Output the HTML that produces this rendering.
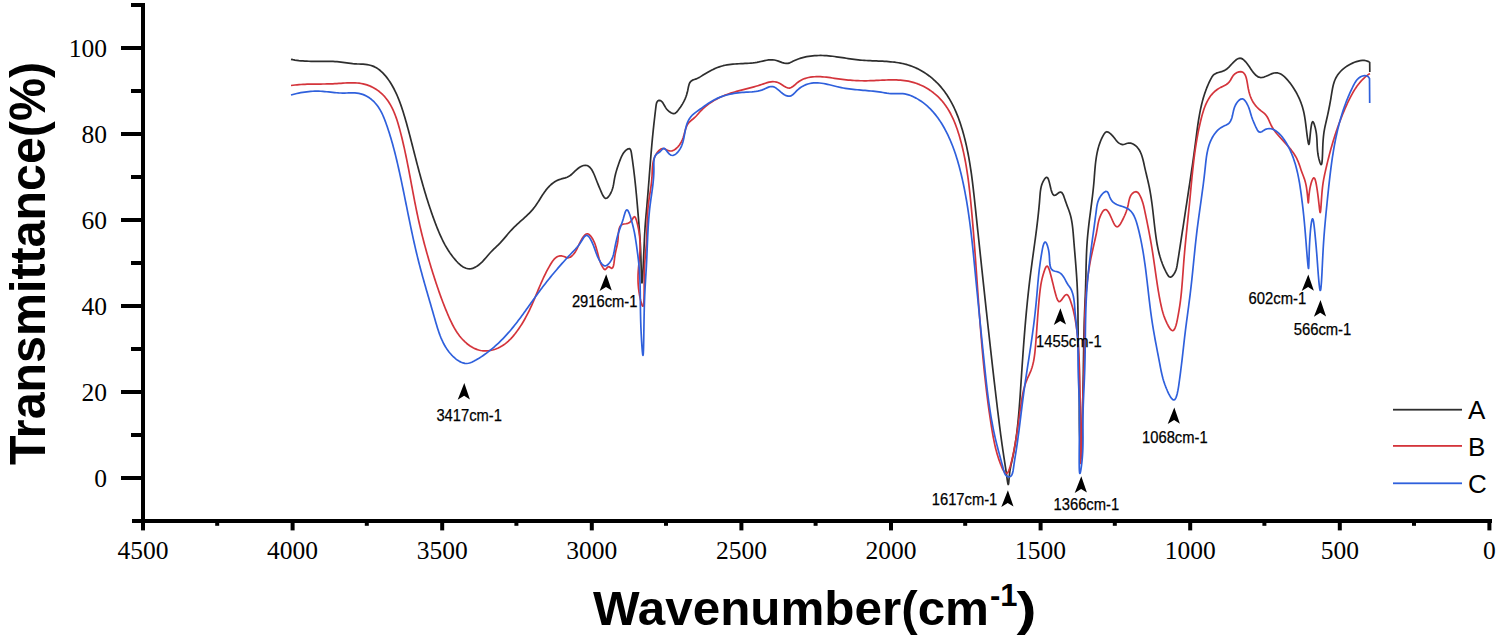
<!DOCTYPE html>
<html><head><meta charset="utf-8"><title>FTIR spectra</title>
<style>
html,body{margin:0;padding:0;background:#fff;}
body{width:1500px;height:639px;overflow:hidden;}
svg{display:block;}
.tl{font-family:"Liberation Serif",serif;font-size:25.5px;fill:#000;}
.lg{font-family:"Liberation Sans",sans-serif;font-size:26px;fill:#000;}
.an{font-family:"Liberation Sans",sans-serif;font-size:16px;fill:#000;stroke:#000;stroke-width:0.25px;}
.tt{font-family:"Liberation Sans",sans-serif;font-size:50px;font-weight:bold;fill:#000;}
.tt2{font-family:"Liberation Sans",sans-serif;font-size:48px;font-weight:bold;fill:#000;}
.sup{font-family:"Liberation Sans",sans-serif;font-size:31px;font-weight:bold;fill:#000;}
</style></head>
<body>
<svg width="1500" height="639" viewBox="0 0 1500 639">
<rect x="141" y="3" width="4" height="520" fill="#000"/>
<rect x="132" y="519" width="1360" height="4" fill="#000"/>
<rect x="121" y="476.0" width="20" height="4" fill="#000"/>
<rect x="121" y="390.0" width="20" height="4" fill="#000"/>
<rect x="121" y="304.0" width="20" height="4" fill="#000"/>
<rect x="121" y="218.0" width="20" height="4" fill="#000"/>
<rect x="121" y="132.0" width="20" height="4" fill="#000"/>
<rect x="121" y="46.0" width="20" height="4" fill="#000"/>
<rect x="131" y="433.0" width="10" height="4" fill="#000"/>
<rect x="131" y="347.0" width="10" height="4" fill="#000"/>
<rect x="131" y="261.0" width="10" height="4" fill="#000"/>
<rect x="131" y="175.0" width="10" height="4" fill="#000"/>
<rect x="131" y="89.0" width="10" height="4" fill="#000"/>
<rect x="131" y="3.0" width="10" height="4" fill="#000"/>
<rect x="141.0" y="523" width="4" height="7.4" fill="#000"/>
<rect x="290.6" y="523" width="4" height="7.4" fill="#000"/>
<rect x="440.2" y="523" width="4" height="7.4" fill="#000"/>
<rect x="589.8" y="523" width="4" height="7.4" fill="#000"/>
<rect x="739.4" y="523" width="4" height="7.4" fill="#000"/>
<rect x="889.0" y="523" width="4" height="7.4" fill="#000"/>
<rect x="1038.6" y="523" width="4" height="7.4" fill="#000"/>
<rect x="1188.2" y="523" width="4" height="7.4" fill="#000"/>
<rect x="1337.8" y="523" width="4" height="7.4" fill="#000"/>
<rect x="1487.4" y="523" width="4" height="7.4" fill="#000"/>
<rect x="215.2" y="523" width="4" height="2.8" fill="#000"/>
<rect x="364.8" y="523" width="4" height="2.8" fill="#000"/>
<rect x="514.4" y="523" width="4" height="2.8" fill="#000"/>
<rect x="664.0" y="523" width="4" height="2.8" fill="#000"/>
<rect x="813.6" y="523" width="4" height="2.8" fill="#000"/>
<rect x="963.2" y="523" width="4" height="2.8" fill="#000"/>
<rect x="1112.8" y="523" width="4" height="2.8" fill="#000"/>
<rect x="1262.4" y="523" width="4" height="2.8" fill="#000"/>
<rect x="1412.0" y="523" width="4" height="2.8" fill="#000"/>
<text x="107" y="486.6" class="tl" text-anchor="end">0</text>
<text x="107" y="400.6" class="tl" text-anchor="end">20</text>
<text x="107" y="314.6" class="tl" text-anchor="end">40</text>
<text x="107" y="228.6" class="tl" text-anchor="end">60</text>
<text x="107" y="142.6" class="tl" text-anchor="end">80</text>
<text x="107" y="56.6" class="tl" text-anchor="end">100</text>
<text x="143.0" y="559.3" class="tl" text-anchor="middle">4500</text>
<text x="292.6" y="559.3" class="tl" text-anchor="middle">4000</text>
<text x="442.2" y="559.3" class="tl" text-anchor="middle">3500</text>
<text x="591.8" y="559.3" class="tl" text-anchor="middle">3000</text>
<text x="741.4" y="559.3" class="tl" text-anchor="middle">2500</text>
<text x="891.0" y="559.3" class="tl" text-anchor="middle">2000</text>
<text x="1040.6" y="559.3" class="tl" text-anchor="middle">1500</text>
<text x="1190.2" y="559.3" class="tl" text-anchor="middle">1000</text>
<text x="1339.8" y="559.3" class="tl" text-anchor="middle">500</text>
<text x="1489.4" y="559.3" class="tl" text-anchor="middle">0</text>
<path d="M291.00,59.30 L292.95,59.70 L294.91,60.05 L296.88,60.34 L298.86,60.59 L300.85,60.79 L302.85,60.95 L304.86,61.08 L306.87,61.17 L308.88,61.24 L310.90,61.28 L312.93,61.31 L314.95,61.32 L316.98,61.32 L319.00,61.31 L321.02,61.31 L323.04,61.30 L325.06,61.31 L327.07,61.32 L329.08,61.35 L331.08,61.40 L333.07,61.47 L335.05,61.57 L337.03,61.71 L338.99,61.88 L340.94,62.09 L342.88,62.34 L344.82,62.61 L346.77,62.88 L348.72,63.16 L350.69,63.41 L352.69,63.64 L354.72,63.81 L356.78,63.94 L358.87,64.02 L360.97,64.11 L363.06,64.21 L365.13,64.37 L367.16,64.62 L369.15,64.97 L371.07,65.46 L372.91,66.11 L374.68,66.90 L376.38,67.82 L378.02,68.87 L379.59,70.02 L381.09,71.28 L382.53,72.63 L383.92,74.07 L385.24,75.57 L386.51,77.13 L387.73,78.73 L388.90,80.38 L390.02,82.06 L391.09,83.76 L392.12,85.48 L393.11,87.23 L394.05,88.99 L394.96,90.78 L395.83,92.58 L396.67,94.40 L397.47,96.23 L398.25,98.08 L398.99,99.95 L399.71,101.82 L400.40,103.70 L401.07,105.60 L401.72,107.50 L402.35,109.41 L402.96,111.32 L403.56,113.24 L404.14,115.16 L404.71,117.08 L405.28,119.00 L405.83,120.92 L406.38,122.84 L406.91,124.76 L407.44,126.69 L407.97,128.61 L408.49,130.54 L409.00,132.46 L409.51,134.39 L410.01,136.32 L410.51,138.25 L411.01,140.18 L411.51,142.11 L412.00,144.04 L412.49,145.97 L412.99,147.90 L413.48,149.84 L413.98,151.77 L414.47,153.71 L414.97,155.65 L415.47,157.59 L415.97,159.53 L416.47,161.47 L416.98,163.41 L417.49,165.35 L418.00,167.29 L418.52,169.23 L419.03,171.16 L419.56,173.10 L420.08,175.04 L420.61,176.98 L421.15,178.91 L421.69,180.85 L422.23,182.78 L422.78,184.71 L423.33,186.64 L423.89,188.57 L424.46,190.49 L425.03,192.42 L425.61,194.34 L426.19,196.26 L426.78,198.17 L427.38,200.09 L427.99,202.00 L428.60,203.90 L429.22,205.81 L429.85,207.71 L430.49,209.60 L431.13,211.49 L431.78,213.38 L432.45,215.27 L433.12,217.15 L433.80,219.02 L434.49,220.89 L435.19,222.76 L435.90,224.62 L436.62,226.47 L437.35,228.32 L438.10,230.16 L438.86,232.00 L439.64,233.83 L440.45,235.64 L441.27,237.45 L442.13,239.25 L443.01,241.03 L443.92,242.81 L444.86,244.57 L445.84,246.31 L446.85,248.04 L447.90,249.75 L449.00,251.45 L450.13,253.13 L451.32,254.79 L452.55,256.44 L453.83,258.06 L455.16,259.66 L456.55,261.24 L457.99,262.76 L459.49,264.19 L461.04,265.49 L462.65,266.64 L464.31,267.58 L466.03,268.29 L467.81,268.73 L469.64,268.87 L471.52,268.66 L473.46,268.07 L475.42,267.12 L477.27,265.99 L478.96,264.76 L480.52,263.45 L481.98,262.07 L483.35,260.64 L484.66,259.18 L485.94,257.69 L487.20,256.19 L488.48,254.70 L489.80,253.23 L491.16,251.79 L492.56,250.37 L493.99,248.97 L495.44,247.58 L496.88,246.18 L498.32,244.77 L499.74,243.35 L501.13,241.89 L502.48,240.41 L503.80,238.90 L505.09,237.38 L506.37,235.84 L507.65,234.31 L508.94,232.79 L510.25,231.28 L511.60,229.81 L512.98,228.36 L514.40,226.95 L515.85,225.56 L517.33,224.19 L518.82,222.84 L520.32,221.49 L521.83,220.15 L523.33,218.80 L524.82,217.45 L526.30,216.08 L527.75,214.70 L529.17,213.29 L530.56,211.85 L531.90,210.37 L533.20,208.86 L534.43,207.29 L535.62,205.68 L536.75,204.04 L537.86,202.36 L538.94,200.67 L540.00,198.97 L541.07,197.27 L542.15,195.57 L543.24,193.90 L544.37,192.25 L545.54,190.64 L546.77,189.08 L548.06,187.57 L549.42,186.13 L550.85,184.76 L552.36,183.49 L553.96,182.32 L555.64,181.27 L557.41,180.35 L559.27,179.57 L561.23,178.94 L563.24,178.40 L565.24,177.85 L567.15,177.19 L568.91,176.33 L570.52,175.24 L572.03,173.99 L573.47,172.63 L574.91,171.22 L576.39,169.82 L577.96,168.48 L579.67,167.27 L581.54,166.24 L583.48,165.53 L585.37,165.26 L587.10,165.53 L588.64,166.30 L590.03,167.50 L591.26,169.03 L592.37,170.81 L593.37,172.76 L594.26,174.78 L595.08,176.80 L595.83,178.73 L596.53,180.52 L597.21,182.23 L597.89,183.91 L598.58,185.61 L599.32,187.39 L600.12,189.29 L601.00,191.37 L601.99,193.65 L603.09,195.86 L604.30,197.60 L605.64,198.45 L607.08,198.05 L608.54,196.61 L609.87,194.69 L610.96,192.72 L611.82,190.77 L612.49,188.83 L613.02,186.91 L613.43,185.00 L613.78,183.09 L614.09,181.19 L614.41,179.28 L614.78,177.38 L615.20,175.47 L615.67,173.56 L616.19,171.65 L616.75,169.73 L617.35,167.82 L617.98,165.90 L618.64,163.98 L619.33,162.07 L620.05,160.15 L620.79,158.24 L621.60,156.35 L622.54,154.53 L623.67,152.78 L625.03,151.16 L626.62,149.74 L628.21,148.81 L629.54,148.67 L630.44,149.48 L631.01,151.01 L631.39,152.95 L631.70,155.00 L632.01,157.06 L632.31,159.13 L632.59,161.19 L632.88,163.26 L633.15,165.33 L633.42,167.39 L633.68,169.46 L633.93,171.53 L634.18,173.59 L634.42,175.65 L634.66,177.71 L634.89,179.77 L635.11,181.82 L635.33,183.87 L635.54,185.91 L635.75,187.94 L635.95,189.97 L636.14,192.00 L636.34,194.01 L636.53,196.02 L636.71,198.01 L636.89,200.00 L637.07,201.98 L637.24,203.95 L637.41,205.91 L637.58,207.85 L637.74,209.78 L637.90,211.70 L638.06,213.61 L638.21,215.50 L638.37,217.38 L638.52,219.24 L638.67,221.09 L638.82,222.92 L638.97,224.73 L639.11,226.53 L639.26,228.33 L639.40,230.14 L639.54,231.97 L639.68,233.82 L639.81,235.70 L639.94,237.63 L640.07,239.61 L640.19,241.65 L640.31,243.76 L640.43,245.95 L640.54,248.23 L640.64,250.60 L640.74,253.09 L640.83,255.68 L640.92,258.39 L641.00,261.16 L641.08,263.95 L641.16,266.72 L641.23,269.42 L641.30,272.00 L641.38,274.42 L641.46,276.62 L641.53,278.58 L641.62,280.23 L641.71,281.53 L641.80,282.44 L641.90,282.91 L642.01,282.89 L642.13,282.36 L642.26,281.38 L642.39,279.99 L642.52,278.25 L642.66,276.22 L642.80,273.94 L642.94,271.49 L643.08,268.90 L643.22,266.24 L643.35,263.56 L643.47,260.91 L643.59,258.35 L643.70,255.90 L643.80,253.54 L643.90,251.27 L643.99,249.08 L644.08,246.97 L644.17,244.92 L644.25,242.93 L644.34,240.99 L644.42,239.09 L644.51,237.23 L644.60,235.39 L644.70,233.57 L644.80,231.77 L644.91,229.96 L645.02,228.16 L645.14,226.34 L645.27,224.50 L645.41,222.64 L645.56,220.75 L645.72,218.83 L645.89,216.89 L646.06,214.94 L646.24,212.96 L646.42,210.97 L646.60,208.98 L646.78,206.97 L646.95,204.96 L647.13,202.94 L647.30,200.93 L647.47,198.91 L647.64,196.89 L647.81,194.87 L647.98,192.85 L648.14,190.83 L648.30,188.81 L648.46,186.79 L648.62,184.77 L648.78,182.75 L648.94,180.73 L649.09,178.71 L649.25,176.69 L649.40,174.67 L649.56,172.65 L649.72,170.64 L649.87,168.63 L650.03,166.62 L650.19,164.61 L650.35,162.61 L650.51,160.61 L650.67,158.61 L650.83,156.61 L650.99,154.62 L651.16,152.64 L651.33,150.65 L651.50,148.68 L651.67,146.70 L651.84,144.74 L652.02,142.77 L652.20,140.82 L652.38,138.86 L652.57,136.92 L652.76,134.98 L652.95,133.05 L653.15,131.12 L653.35,129.20 L653.55,127.29 L653.76,125.37 L653.97,123.44 L654.19,121.49 L654.42,119.52 L654.65,117.52 L654.88,115.48 L655.12,113.39 L655.37,111.25 L655.63,109.06 L655.89,106.79 L656.21,104.54 L656.73,102.55 L657.63,101.07 L659.02,100.35 L660.64,100.59 L662.07,101.78 L663.30,103.57 L664.41,105.54 L665.48,107.36 L666.60,108.98 L667.91,110.45 L669.52,111.82 L671.42,113.00 L673.37,113.61 L675.12,113.29 L676.62,112.14 L677.96,110.54 L679.21,108.86 L680.39,107.19 L681.50,105.52 L682.54,103.83 L683.50,102.13 L684.39,100.39 L685.21,98.60 L685.94,96.76 L686.60,94.85 L687.18,92.86 L687.67,90.78 L688.09,88.62 L688.52,86.46 L689.07,84.43 L689.84,82.62 L690.94,81.17 L692.47,80.18 L694.34,79.55 L696.24,78.90 L698.02,78.08 L699.73,77.14 L701.41,76.11 L703.10,75.06 L704.81,74.01 L706.54,72.98 L708.30,71.96 L710.08,70.98 L711.88,70.03 L713.71,69.14 L715.55,68.30 L717.42,67.52 L719.30,66.83 L721.21,66.22 L723.13,65.70 L725.07,65.26 L727.02,64.89 L728.99,64.59 L730.97,64.35 L732.96,64.15 L734.95,63.99 L736.95,63.86 L738.96,63.75 L740.97,63.66 L742.98,63.56 L744.99,63.47 L747.00,63.36 L749.00,63.23 L751.00,63.06 L752.99,62.86 L754.97,62.61 L756.94,62.30 L758.90,61.93 L760.85,61.50 L762.78,61.05 L764.71,60.62 L766.64,60.24 L768.57,59.95 L770.50,59.80 L772.45,59.81 L774.40,60.03 L776.37,60.50 L778.35,61.15 L780.33,61.88 L782.30,62.58 L784.24,63.13 L786.15,63.43 L788.01,63.35 L789.82,62.83 L791.59,61.99 L793.38,61.08 L795.20,60.23 L797.05,59.46 L798.92,58.77 L800.83,58.14 L802.75,57.59 L804.70,57.11 L806.66,56.70 L808.64,56.35 L810.63,56.06 L812.62,55.83 L814.62,55.66 L816.63,55.55 L818.63,55.48 L820.63,55.47 L822.62,55.51 L824.60,55.59 L826.58,55.71 L828.56,55.87 L830.53,56.06 L832.50,56.28 L834.47,56.52 L836.43,56.79 L838.40,57.07 L840.36,57.36 L842.33,57.66 L844.30,57.96 L846.27,58.27 L848.24,58.57 L850.22,58.86 L852.20,59.14 L854.18,59.40 L856.18,59.65 L858.17,59.87 L860.18,60.06 L862.19,60.23 L864.21,60.37 L866.23,60.49 L868.26,60.60 L870.29,60.70 L872.32,60.79 L874.36,60.87 L876.39,60.95 L878.42,61.04 L880.45,61.12 L882.48,61.22 L884.50,61.34 L886.52,61.46 L888.53,61.61 L890.53,61.78 L892.53,61.98 L894.52,62.21 L896.50,62.48 L898.46,62.78 L900.42,63.12 L902.36,63.51 L904.29,63.95 L906.21,64.44 L908.10,64.98 L909.99,65.59 L911.85,66.26 L913.69,66.98 L915.52,67.77 L917.32,68.61 L919.10,69.50 L920.86,70.45 L922.58,71.45 L924.29,72.50 L925.96,73.60 L927.60,74.75 L929.22,75.94 L930.80,77.18 L932.34,78.45 L933.85,79.77 L935.33,81.13 L936.77,82.52 L938.16,83.95 L939.52,85.41 L940.84,86.91 L942.11,88.43 L943.35,89.99 L944.54,91.57 L945.70,93.18 L946.82,94.82 L947.91,96.49 L948.96,98.18 L949.97,99.89 L950.96,101.62 L951.91,103.38 L952.82,105.16 L953.71,106.95 L954.57,108.76 L955.39,110.59 L956.19,112.44 L956.96,114.30 L957.71,116.17 L958.43,118.06 L959.12,119.95 L959.79,121.86 L960.44,123.78 L961.07,125.70 L961.67,127.63 L962.26,129.57 L962.82,131.51 L963.37,133.45 L963.90,135.40 L964.41,137.35 L964.90,139.30 L965.38,141.25 L965.84,143.21 L966.29,145.16 L966.73,147.12 L967.14,149.08 L967.55,151.05 L967.94,153.01 L968.32,154.97 L968.69,156.94 L969.04,158.91 L969.38,160.88 L969.72,162.85 L970.04,164.83 L970.35,166.80 L970.65,168.77 L970.95,170.75 L971.23,172.73 L971.51,174.71 L971.78,176.69 L972.04,178.67 L972.29,180.65 L972.54,182.63 L972.78,184.61 L973.02,186.60 L973.26,188.58 L973.48,190.56 L973.71,192.55 L973.93,194.53 L974.15,196.52 L974.37,198.51 L974.58,200.49 L974.79,202.48 L975.00,204.47 L975.22,206.45 L975.43,208.44 L975.64,210.42 L975.85,212.41 L976.06,214.40 L976.27,216.38 L976.48,218.37 L976.69,220.36 L976.90,222.34 L977.11,224.33 L977.32,226.32 L977.53,228.30 L977.74,230.29 L977.95,232.28 L978.17,234.26 L978.38,236.25 L978.59,238.24 L978.80,240.22 L979.01,242.21 L979.22,244.20 L979.43,246.19 L979.64,248.17 L979.85,250.16 L980.06,252.15 L980.27,254.13 L980.48,256.12 L980.70,258.11 L980.91,260.10 L981.12,262.08 L981.33,264.07 L981.54,266.06 L981.75,268.05 L981.97,270.03 L982.18,272.02 L982.39,274.01 L982.60,276.00 L982.82,277.98 L983.03,279.97 L983.24,281.96 L983.45,283.95 L983.67,285.94 L983.88,287.93 L984.09,289.91 L984.31,291.90 L984.52,293.89 L984.74,295.88 L984.95,297.87 L985.17,299.86 L985.38,301.85 L985.60,303.84 L985.81,305.83 L986.03,307.82 L986.24,309.81 L986.46,311.80 L986.68,313.78 L986.89,315.77 L987.11,317.77 L987.33,319.76 L987.55,321.75 L987.76,323.74 L987.98,325.73 L988.20,327.72 L988.42,329.71 L988.64,331.70 L988.86,333.69 L989.08,335.68 L989.30,337.67 L989.52,339.67 L989.74,341.66 L989.97,343.65 L990.19,345.64 L990.41,347.63 L990.63,349.63 L990.86,351.62 L991.08,353.61 L991.31,355.60 L991.53,357.60 L991.76,359.59 L991.98,361.58 L992.21,363.58 L992.43,365.57 L992.66,367.57 L992.89,369.56 L993.12,371.56 L993.35,373.55 L993.57,375.55 L993.80,377.54 L994.03,379.54 L994.26,381.53 L994.50,383.53 L994.73,385.52 L994.96,387.52 L995.19,389.52 L995.43,391.51 L995.66,393.51 L995.89,395.51 L996.13,397.50 L996.37,399.50 L996.60,401.50 L996.84,403.50 L997.08,405.49 L997.31,407.49 L997.55,409.49 L997.79,411.48 L998.04,413.48 L998.28,415.47 L998.52,417.46 L998.77,419.45 L999.01,421.44 L999.26,423.42 L999.51,425.41 L999.77,427.39 L1000.02,429.36 L1000.28,431.33 L1000.53,433.30 L1000.79,435.27 L1001.06,437.23 L1001.32,439.18 L1001.59,441.13 L1001.86,443.08 L1002.13,445.02 L1002.41,446.95 L1002.68,448.88 L1002.97,450.81 L1003.25,452.72 L1003.54,454.63 L1003.83,456.54 L1004.12,458.44 L1004.42,460.37 L1004.72,462.32 L1005.02,464.31 L1005.33,466.34 L1005.65,468.44 L1005.97,470.61 L1006.29,472.87 L1006.62,475.22 L1006.95,477.67 L1007.28,480.07 L1007.60,482.17 L1007.90,483.74 L1008.17,484.54 L1008.41,484.37 L1008.62,483.30 L1008.82,481.54 L1009.02,479.29 L1009.24,476.76 L1009.50,474.15 L1009.81,471.67 L1010.16,469.38 L1010.56,467.23 L1010.98,465.20 L1011.42,463.25 L1011.86,461.35 L1012.28,459.45 L1012.69,457.54 L1013.09,455.63 L1013.47,453.71 L1013.84,451.79 L1014.19,449.86 L1014.54,447.92 L1014.86,445.98 L1015.18,444.04 L1015.48,442.09 L1015.78,440.14 L1016.06,438.18 L1016.33,436.22 L1016.59,434.25 L1016.84,432.28 L1017.08,430.31 L1017.31,428.33 L1017.53,426.35 L1017.75,424.37 L1017.95,422.38 L1018.15,420.39 L1018.34,418.40 L1018.53,416.40 L1018.71,414.41 L1018.88,412.41 L1019.05,410.41 L1019.21,408.41 L1019.37,406.40 L1019.52,404.40 L1019.67,402.39 L1019.81,400.39 L1019.96,398.38 L1020.10,396.37 L1020.24,394.36 L1020.37,392.35 L1020.51,390.35 L1020.64,388.34 L1020.77,386.33 L1020.91,384.32 L1021.04,382.32 L1021.17,380.31 L1021.30,378.30 L1021.44,376.30 L1021.57,374.29 L1021.71,372.29 L1021.84,370.29 L1021.98,368.29 L1022.11,366.28 L1022.25,364.28 L1022.39,362.28 L1022.53,360.28 L1022.67,358.28 L1022.81,356.28 L1022.95,354.29 L1023.09,352.29 L1023.24,350.29 L1023.38,348.29 L1023.53,346.30 L1023.68,344.30 L1023.83,342.31 L1023.98,340.31 L1024.14,338.32 L1024.29,336.32 L1024.45,334.33 L1024.61,332.34 L1024.77,330.35 L1024.94,328.35 L1025.10,326.36 L1025.27,324.37 L1025.44,322.38 L1025.61,320.39 L1025.79,318.40 L1025.97,316.41 L1026.15,314.42 L1026.33,312.44 L1026.52,310.45 L1026.71,308.46 L1026.90,306.47 L1027.10,304.49 L1027.29,302.50 L1027.49,300.51 L1027.70,298.53 L1027.91,296.54 L1028.12,294.56 L1028.33,292.57 L1028.55,290.59 L1028.77,288.61 L1029.00,286.62 L1029.23,284.64 L1029.46,282.65 L1029.70,280.67 L1029.94,278.69 L1030.19,276.71 L1030.44,274.72 L1030.69,272.74 L1030.95,270.76 L1031.21,268.78 L1031.47,266.80 L1031.74,264.82 L1032.00,262.83 L1032.27,260.85 L1032.54,258.87 L1032.81,256.89 L1033.09,254.91 L1033.36,252.92 L1033.63,250.94 L1033.91,248.96 L1034.18,246.97 L1034.45,244.99 L1034.72,243.00 L1034.99,241.01 L1035.26,239.03 L1035.52,237.04 L1035.79,235.05 L1036.05,233.06 L1036.30,231.07 L1036.56,229.08 L1036.81,227.09 L1037.05,225.09 L1037.29,223.10 L1037.53,221.10 L1037.76,219.10 L1037.99,217.11 L1038.21,215.11 L1038.42,213.10 L1038.63,211.10 L1038.83,209.10 L1039.02,207.09 L1039.21,205.08 L1039.39,203.07 L1039.56,201.06 L1039.72,199.05 L1039.87,197.03 L1040.03,195.02 L1040.20,193.01 L1040.42,191.01 L1040.72,189.03 L1041.12,187.07 L1041.64,185.14 L1042.31,183.25 L1043.17,181.40 L1044.22,179.59 L1045.44,178.03 L1046.60,177.29 L1047.58,177.77 L1048.40,179.25 L1049.11,181.47 L1049.77,184.16 L1050.43,187.05 L1051.13,189.89 L1051.94,192.38 L1052.90,194.28 L1054.06,195.31 L1055.48,195.20 L1057.14,194.03 L1058.86,192.64 L1060.45,191.99 L1061.79,192.61 L1062.91,194.21 L1063.88,196.44 L1064.75,198.94 L1065.56,201.37 L1066.34,203.57 L1067.09,205.59 L1067.81,207.47 L1068.48,209.25 L1069.11,210.97 L1069.69,212.67 L1070.22,214.39 L1070.69,216.17 L1071.12,217.99 L1071.50,219.85 L1071.84,221.76 L1072.14,223.70 L1072.41,225.67 L1072.65,227.67 L1072.87,229.69 L1073.07,231.73 L1073.25,233.77 L1073.42,235.83 L1073.59,237.88 L1073.75,239.94 L1073.91,241.99 L1074.08,244.03 L1074.25,246.07 L1074.42,248.10 L1074.58,250.12 L1074.75,252.15 L1074.92,254.16 L1075.08,256.17 L1075.25,258.18 L1075.41,260.19 L1075.57,262.19 L1075.73,264.18 L1075.89,266.18 L1076.04,268.17 L1076.19,270.16 L1076.33,272.15 L1076.47,274.13 L1076.61,276.11 L1076.74,278.10 L1076.86,280.08 L1076.98,282.06 L1077.09,284.04 L1077.19,286.02 L1077.29,288.01 L1077.38,289.99 L1077.46,291.97 L1077.53,293.96 L1077.60,295.94 L1077.66,297.93 L1077.71,299.92 L1077.76,301.91 L1077.80,303.90 L1077.84,305.89 L1077.87,307.88 L1077.91,309.88 L1077.93,311.88 L1077.96,313.88 L1077.98,315.88 L1078.00,317.89 L1078.01,319.90 L1078.03,321.91 L1078.05,323.92 L1078.06,325.93 L1078.08,327.95 L1078.09,329.97 L1078.11,332.00 L1078.13,334.03 L1078.15,336.06 L1078.17,338.09 L1078.20,340.13 L1078.23,342.17 L1078.26,344.22 L1078.29,346.26 L1078.33,348.31 L1078.37,350.36 L1078.41,352.41 L1078.45,354.46 L1078.50,356.51 L1078.54,358.56 L1078.59,360.60 L1078.64,362.65 L1078.68,364.68 L1078.73,366.72 L1078.78,368.75 L1078.83,370.77 L1078.87,372.79 L1078.92,374.81 L1078.96,376.81 L1079.01,378.81 L1079.05,380.79 L1079.09,382.77 L1079.13,384.74 L1079.16,386.70 L1079.19,388.65 L1079.22,390.58 L1079.25,392.51 L1079.27,394.42 L1079.29,396.31 L1079.31,398.19 L1079.32,400.06 L1079.33,401.91 L1079.33,403.75 L1079.34,405.58 L1079.34,407.40 L1079.34,409.22 L1079.33,411.05 L1079.33,412.87 L1079.34,414.71 L1079.34,416.55 L1079.35,418.41 L1079.36,420.29 L1079.38,422.18 L1079.40,424.10 L1079.44,426.05 L1079.47,428.03 L1079.52,430.04 L1079.58,432.09 L1079.65,434.18 L1079.73,436.31 L1079.82,438.49 L1079.92,440.72 L1080.04,443.00 L1080.18,445.34 L1080.33,447.74 L1080.49,450.20 L1080.67,452.68 L1080.86,454.96 L1081.05,456.78 L1081.22,457.89 L1081.36,458.11 L1081.49,457.50 L1081.60,456.18 L1081.69,454.26 L1081.77,451.88 L1081.84,449.14 L1081.90,446.17 L1081.96,443.09 L1082.01,440.01 L1082.06,437.03 L1082.11,434.16 L1082.15,431.40 L1082.20,428.75 L1082.25,426.19 L1082.29,423.73 L1082.34,421.36 L1082.38,419.07 L1082.43,416.86 L1082.47,414.72 L1082.51,412.65 L1082.55,410.65 L1082.59,408.70 L1082.63,406.80 L1082.67,404.96 L1082.71,403.15 L1082.75,401.39 L1082.79,399.66 L1082.82,397.96 L1082.86,396.28 L1082.90,394.61 L1082.93,392.96 L1082.97,391.32 L1083.00,389.69 L1083.03,388.05 L1083.06,386.40 L1083.10,384.74 L1083.13,383.07 L1083.16,381.37 L1083.19,379.64 L1083.22,377.89 L1083.25,376.10 L1083.28,374.29 L1083.31,372.44 L1083.34,370.57 L1083.37,368.68 L1083.39,366.76 L1083.42,364.83 L1083.45,362.87 L1083.48,360.89 L1083.51,358.89 L1083.55,356.88 L1083.58,354.85 L1083.61,352.81 L1083.65,350.76 L1083.68,348.70 L1083.72,346.62 L1083.76,344.54 L1083.79,342.46 L1083.84,340.36 L1083.88,338.27 L1083.92,336.17 L1083.97,334.07 L1084.02,331.97 L1084.07,329.88 L1084.12,327.78 L1084.17,325.70 L1084.23,323.61 L1084.29,321.54 L1084.35,319.48 L1084.42,317.42 L1084.49,315.38 L1084.56,313.35 L1084.63,311.33 L1084.71,309.34 L1084.79,307.35 L1084.87,305.39 L1084.96,303.43 L1085.04,301.48 L1085.12,299.55 L1085.21,297.61 L1085.29,295.68 L1085.37,293.75 L1085.44,291.81 L1085.51,289.87 L1085.58,287.92 L1085.63,285.96 L1085.69,283.99 L1085.74,282.01 L1085.79,280.03 L1085.83,278.04 L1085.88,276.05 L1085.92,274.05 L1085.96,272.04 L1086.01,270.04 L1086.06,268.02 L1086.10,266.01 L1086.16,263.99 L1086.21,261.97 L1086.27,259.95 L1086.34,257.92 L1086.41,255.90 L1086.49,253.88 L1086.58,251.86 L1086.68,249.84 L1086.78,247.82 L1086.90,245.81 L1087.03,243.79 L1087.17,241.78 L1087.32,239.78 L1087.48,237.78 L1087.66,235.79 L1087.85,233.79 L1088.05,231.81 L1088.26,229.82 L1088.48,227.84 L1088.70,225.86 L1088.93,223.89 L1089.17,221.91 L1089.42,219.94 L1089.67,217.97 L1089.92,216.00 L1090.17,214.03 L1090.43,212.06 L1090.69,210.08 L1090.95,208.11 L1091.20,206.14 L1091.46,204.17 L1091.71,202.19 L1091.96,200.21 L1092.21,198.23 L1092.45,196.25 L1092.68,194.26 L1092.91,192.27 L1093.13,190.28 L1093.34,188.28 L1093.54,186.27 L1093.73,184.27 L1093.91,182.25 L1094.08,180.23 L1094.24,178.21 L1094.39,176.18 L1094.55,174.15 L1094.70,172.12 L1094.86,170.09 L1095.04,168.07 L1095.22,166.05 L1095.43,164.03 L1095.66,162.02 L1095.91,160.02 L1096.19,158.03 L1096.51,156.05 L1096.86,154.08 L1097.26,152.12 L1097.70,150.19 L1098.18,148.26 L1098.72,146.36 L1099.32,144.48 L1099.98,142.61 L1100.70,140.77 L1101.49,138.96 L1102.35,137.17 L1103.29,135.40 L1104.31,133.68 L1105.48,132.25 L1106.93,131.68 L1108.74,132.34 L1110.65,133.84 L1112.39,135.61 L1113.78,137.29 L1114.97,138.86 L1116.13,140.34 L1117.42,141.77 L1118.97,143.11 L1120.74,144.14 L1122.65,144.56 L1124.61,144.22 L1126.61,143.52 L1128.62,143.04 L1130.62,143.16 L1132.53,143.79 L1134.28,144.75 L1135.83,145.89 L1137.20,147.20 L1138.40,148.67 L1139.44,150.27 L1140.35,151.99 L1141.15,153.80 L1141.84,155.70 L1142.45,157.67 L1142.99,159.68 L1143.49,161.72 L1143.95,163.78 L1144.39,165.84 L1144.84,167.87 L1145.30,169.87 L1145.76,171.86 L1146.23,173.82 L1146.69,175.76 L1147.16,177.69 L1147.62,179.61 L1148.06,181.53 L1148.50,183.44 L1148.92,185.36 L1149.32,187.29 L1149.70,189.23 L1150.06,191.17 L1150.40,193.13 L1150.73,195.09 L1151.04,197.06 L1151.33,199.04 L1151.61,201.02 L1151.88,203.00 L1152.15,205.00 L1152.40,206.99 L1152.64,208.99 L1152.88,210.99 L1153.11,212.99 L1153.34,214.99 L1153.56,217.00 L1153.79,219.00 L1154.01,221.01 L1154.24,223.01 L1154.47,225.01 L1154.70,227.00 L1154.94,228.99 L1155.18,230.98 L1155.43,232.97 L1155.70,234.95 L1155.97,236.92 L1156.26,238.88 L1156.56,240.84 L1156.88,242.80 L1157.22,244.75 L1157.59,246.69 L1157.99,248.63 L1158.41,250.57 L1158.87,252.50 L1159.36,254.42 L1159.89,256.35 L1160.47,258.26 L1161.08,260.18 L1161.75,262.09 L1162.46,263.99 L1163.23,265.90 L1164.05,267.80 L1164.92,269.70 L1165.86,271.59 L1166.86,273.49 L1167.94,275.35 L1169.12,276.79 L1170.47,277.25 L1171.98,276.43 L1173.43,274.86 L1174.61,273.08 L1175.52,271.24 L1176.21,269.34 L1176.72,267.41 L1177.11,265.44 L1177.44,263.46 L1177.75,261.48 L1178.06,259.49 L1178.37,257.51 L1178.68,255.53 L1178.99,253.54 L1179.29,251.56 L1179.60,249.57 L1179.91,247.59 L1180.21,245.61 L1180.52,243.62 L1180.82,241.64 L1181.13,239.66 L1181.43,237.68 L1181.73,235.69 L1182.04,233.71 L1182.34,231.73 L1182.64,229.75 L1182.95,227.77 L1183.25,225.79 L1183.55,223.81 L1183.85,221.83 L1184.15,219.85 L1184.46,217.87 L1184.76,215.89 L1185.06,213.91 L1185.36,211.93 L1185.66,209.95 L1185.96,207.97 L1186.26,206.00 L1186.56,204.02 L1186.86,202.04 L1187.16,200.07 L1187.46,198.09 L1187.77,196.12 L1188.07,194.14 L1188.37,192.17 L1188.67,190.20 L1188.97,188.22 L1189.27,186.25 L1189.57,184.27 L1189.86,182.30 L1190.16,180.33 L1190.46,178.35 L1190.75,176.38 L1191.05,174.40 L1191.34,172.43 L1191.63,170.45 L1191.92,168.48 L1192.21,166.50 L1192.50,164.52 L1192.78,162.54 L1193.06,160.56 L1193.35,158.58 L1193.62,156.60 L1193.90,154.61 L1194.17,152.63 L1194.44,150.64 L1194.71,148.65 L1194.97,146.66 L1195.24,144.67 L1195.50,142.67 L1195.75,140.68 L1196.01,138.68 L1196.26,136.68 L1196.52,134.69 L1196.77,132.69 L1197.04,130.69 L1197.31,128.70 L1197.58,126.70 L1197.87,124.71 L1198.16,122.72 L1198.47,120.73 L1198.78,118.75 L1199.12,116.77 L1199.46,114.80 L1199.83,112.83 L1200.21,110.87 L1200.61,108.91 L1201.04,106.96 L1201.48,105.02 L1201.95,103.09 L1202.45,101.16 L1202.97,99.24 L1203.52,97.33 L1204.10,95.43 L1204.72,93.54 L1205.36,91.67 L1206.04,89.80 L1206.75,87.94 L1207.50,86.10 L1208.29,84.27 L1209.12,82.45 L1209.98,80.65 L1210.89,78.86 L1211.87,77.10 L1213.02,75.49 L1214.47,74.14 L1216.32,73.15 L1218.42,72.45 L1220.53,71.89 L1222.42,71.33 L1224.11,70.66 L1225.66,69.81 L1227.18,68.70 L1228.70,67.29 L1230.25,65.68 L1231.81,63.98 L1233.38,62.31 L1234.95,60.79 L1236.53,59.52 L1238.10,58.62 L1239.66,58.21 L1241.21,58.39 L1242.74,59.13 L1244.22,60.31 L1245.64,61.79 L1247.00,63.45 L1248.29,65.22 L1249.56,67.06 L1250.80,68.90 L1252.04,70.70 L1253.30,72.41 L1254.59,73.95 L1255.93,75.30 L1257.34,76.37 L1258.84,77.14 L1260.45,77.53 L1262.18,77.51 L1264.03,77.06 L1265.98,76.31 L1268.00,75.40 L1270.03,74.46 L1272.06,73.62 L1274.05,73.03 L1275.97,72.81 L1277.79,72.97 L1279.54,73.49 L1281.21,74.30 L1282.81,75.37 L1284.35,76.64 L1285.82,78.07 L1287.23,79.61 L1288.59,81.22 L1289.90,82.86 L1291.15,84.53 L1292.36,86.22 L1293.51,87.94 L1294.61,89.69 L1295.66,91.45 L1296.66,93.23 L1297.60,95.03 L1298.49,96.84 L1299.33,98.66 L1300.11,100.50 L1300.84,102.33 L1301.51,104.18 L1302.12,106.02 L1302.68,107.87 L1303.19,109.71 L1303.64,111.55 L1304.04,113.40 L1304.40,115.26 L1304.73,117.13 L1305.03,119.02 L1305.31,120.94 L1305.57,122.90 L1305.82,124.88 L1306.07,126.91 L1306.32,128.99 L1306.58,131.12 L1306.85,133.31 L1307.14,135.57 L1307.46,137.89 L1307.81,140.20 L1308.16,142.23 L1308.50,143.72 L1308.81,144.39 L1309.09,144.11 L1309.34,143.02 L1309.58,141.23 L1309.82,138.90 L1310.08,136.15 L1310.38,133.13 L1310.72,129.98 L1311.13,126.87 L1311.60,124.16 L1312.16,122.26 L1312.80,121.57 L1313.54,122.43 L1314.29,124.41 L1314.96,126.65 L1315.50,128.81 L1315.93,130.91 L1316.27,132.94 L1316.53,134.92 L1316.72,136.86 L1316.86,138.76 L1316.97,140.65 L1317.05,142.52 L1317.13,144.39 L1317.22,146.26 L1317.33,148.15 L1317.48,150.07 L1317.67,152.01 L1317.94,154.01 L1318.29,156.05 L1318.73,158.16 L1319.29,160.34 L1319.94,162.46 L1320.57,164.04 L1321.10,164.63 L1321.52,164.30 L1321.85,163.17 L1322.10,161.37 L1322.29,159.03 L1322.44,156.30 L1322.56,153.29 L1322.66,150.15 L1322.77,147.01 L1322.90,144.00 L1323.06,141.23 L1323.25,138.70 L1323.47,136.37 L1323.72,134.23 L1323.99,132.23 L1324.29,130.37 L1324.61,128.60 L1324.95,126.90 L1325.31,125.25 L1325.68,123.61 L1326.06,121.96 L1326.45,120.27 L1326.85,118.52 L1327.26,116.71 L1327.67,114.85 L1328.08,112.95 L1328.49,111.00 L1328.89,109.02 L1329.29,107.01 L1329.69,104.97 L1330.07,102.92 L1330.44,100.85 L1330.80,98.78 L1331.14,96.70 L1331.47,94.63 L1331.80,92.57 L1332.14,90.52 L1332.52,88.50 L1332.94,86.51 L1333.42,84.56 L1333.97,82.65 L1334.62,80.79 L1335.38,78.99 L1336.25,77.25 L1337.25,75.58 L1338.37,73.99 L1339.61,72.46 L1340.94,71.01 L1342.37,69.63 L1343.89,68.34 L1345.50,67.12 L1347.17,65.99 L1348.91,64.94 L1350.72,63.98 L1352.57,63.11 L1354.47,62.32 L1356.40,61.64 L1358.36,61.06 L1360.33,60.63 L1362.29,60.40 L1364.22,60.42 L1366.11,60.72 L1367.94,61.35 L1369.69,62.37 L1369.80,72.00" fill="none" stroke="#2e2e2e" stroke-width="1.7" stroke-linejoin="round"/>
<path d="M291.00,85.52 L293.02,85.25 L295.04,85.01 L297.05,84.81 L299.06,84.64 L301.05,84.50 L303.05,84.38 L305.04,84.29 L307.02,84.22 L309.01,84.16 L310.99,84.12 L312.97,84.09 L314.95,84.07 L316.93,84.05 L318.91,84.04 L320.89,84.03 L322.87,84.01 L324.86,83.99 L326.85,83.95 L328.85,83.91 L330.85,83.85 L332.86,83.78 L334.87,83.68 L336.90,83.56 L338.92,83.43 L340.96,83.29 L342.99,83.15 L345.02,83.02 L347.06,82.92 L349.09,82.84 L351.12,82.80 L353.14,82.81 L355.15,82.88 L357.15,83.00 L359.14,83.20 L361.12,83.49 L363.08,83.86 L365.03,84.33 L366.95,84.91 L368.85,85.59 L370.72,86.37 L372.55,87.24 L374.32,88.20 L376.05,89.24 L377.70,90.35 L379.29,91.54 L380.80,92.80 L382.24,94.12 L383.61,95.50 L384.91,96.94 L386.14,98.43 L387.31,99.98 L388.41,101.57 L389.46,103.21 L390.46,104.90 L391.41,106.62 L392.30,108.38 L393.15,110.18 L393.96,112.01 L394.72,113.86 L395.45,115.75 L396.14,117.65 L396.80,119.58 L397.43,121.52 L398.04,123.47 L398.62,125.44 L399.18,127.41 L399.72,129.39 L400.24,131.38 L400.75,133.36 L401.26,135.34 L401.75,137.31 L402.23,139.29 L402.70,141.26 L403.16,143.23 L403.61,145.20 L404.06,147.17 L404.50,149.13 L404.92,151.10 L405.35,153.06 L405.76,155.02 L406.17,156.98 L406.57,158.94 L406.97,160.89 L407.36,162.85 L407.75,164.80 L408.13,166.76 L408.51,168.71 L408.88,170.66 L409.26,172.61 L409.63,174.56 L409.99,176.51 L410.36,178.45 L410.72,180.40 L411.09,182.35 L411.45,184.29 L411.81,186.24 L412.18,188.18 L412.54,190.13 L412.91,192.07 L413.27,194.02 L413.64,195.96 L414.01,197.91 L414.39,199.85 L414.76,201.79 L415.15,203.74 L415.53,205.68 L415.92,207.63 L416.32,209.58 L416.72,211.52 L417.12,213.47 L417.54,215.41 L417.95,217.36 L418.38,219.31 L418.81,221.26 L419.26,223.21 L419.70,225.16 L420.16,227.11 L420.62,229.06 L421.09,231.02 L421.57,232.97 L422.06,234.92 L422.55,236.87 L423.05,238.82 L423.55,240.77 L424.06,242.72 L424.58,244.67 L425.11,246.61 L425.64,248.56 L426.17,250.50 L426.72,252.44 L427.26,254.38 L427.82,256.32 L428.38,258.26 L428.94,260.19 L429.52,262.13 L430.09,264.06 L430.67,265.98 L431.26,267.91 L431.85,269.83 L432.45,271.74 L433.05,273.66 L433.66,275.57 L434.27,277.48 L434.89,279.38 L435.51,281.28 L436.13,283.17 L436.76,285.07 L437.40,286.95 L438.04,288.84 L438.69,290.72 L439.35,292.60 L440.01,294.47 L440.69,296.34 L441.37,298.21 L442.06,300.07 L442.76,301.93 L443.47,303.79 L444.20,305.65 L444.93,307.50 L445.68,309.35 L446.44,311.19 L447.21,313.04 L447.99,314.88 L448.80,316.72 L449.61,318.56 L450.45,320.38 L451.32,322.20 L452.21,324.00 L453.13,325.78 L454.10,327.54 L455.10,329.28 L456.14,330.99 L457.24,332.66 L458.38,334.31 L459.58,335.91 L460.84,337.47 L462.17,338.99 L463.55,340.46 L465.01,341.88 L466.52,343.23 L468.10,344.50 L469.73,345.69 L471.41,346.78 L473.14,347.76 L474.93,348.64 L476.75,349.38 L478.62,350.00 L480.53,350.47 L482.48,350.78 L484.46,350.94 L486.47,350.93 L488.48,350.77 L490.50,350.46 L492.50,350.02 L494.47,349.45 L496.40,348.77 L498.28,347.97 L500.09,347.08 L501.82,346.09 L503.49,345.02 L505.10,343.86 L506.64,342.63 L508.13,341.34 L509.56,339.98 L510.95,338.56 L512.29,337.10 L513.59,335.59 L514.86,334.04 L516.08,332.46 L517.28,330.86 L518.45,329.22 L519.58,327.56 L520.69,325.88 L521.77,324.18 L522.82,322.46 L523.85,320.72 L524.85,318.96 L525.82,317.20 L526.77,315.41 L527.70,313.62 L528.60,311.82 L529.49,310.01 L530.35,308.19 L531.19,306.38 L532.01,304.56 L532.82,302.73 L533.61,300.91 L534.39,299.08 L535.16,297.26 L535.92,295.43 L536.68,293.60 L537.44,291.77 L538.20,289.95 L538.96,288.12 L539.73,286.29 L540.51,284.47 L541.30,282.64 L542.11,280.82 L542.93,278.99 L543.77,277.17 L544.64,275.35 L545.53,273.54 L546.45,271.72 L547.40,269.91 L548.38,268.10 L549.39,266.30 L550.45,264.50 L551.54,262.72 L552.70,261.01 L553.94,259.45 L555.27,258.09 L556.72,256.99 L558.30,256.23 L560.02,255.86 L561.91,255.95 L563.98,256.55 L566.17,257.40 L568.30,257.80 L570.22,257.23 L571.89,255.99 L573.32,254.50 L574.53,252.99 L575.57,251.45 L576.48,249.86 L577.31,248.22 L578.11,246.51 L578.93,244.73 L579.81,242.85 L580.81,240.87 L581.96,238.81 L583.24,236.85 L584.61,235.21 L586.03,234.09 L587.48,233.73 L588.91,234.27 L590.29,235.54 L591.55,237.19 L592.66,238.96 L593.62,240.78 L594.46,242.64 L595.19,244.54 L595.83,246.46 L596.41,248.41 L596.94,250.37 L597.44,252.33 L597.94,254.30 L598.44,256.25 L598.98,258.19 L599.56,260.10 L600.22,261.99 L600.96,263.83 L601.81,265.63 L602.80,267.37 L603.92,269.00 L605.13,269.73 L606.36,268.62 L607.65,266.97 L609.09,266.71 L610.57,267.79 L611.82,268.35 L612.75,267.66 L613.42,266.00 L613.90,263.66 L614.27,260.94 L614.59,258.15 L614.94,255.57 L615.34,253.28 L615.76,251.22 L616.19,249.32 L616.62,247.53 L617.02,245.78 L617.39,244.02 L617.71,242.17 L617.95,240.19 L618.12,238.02 L618.24,235.71 L618.40,233.35 L618.66,231.07 L619.09,228.94 L619.76,227.08 L620.74,225.58 L622.10,224.54 L623.87,224.02 L625.90,223.76 L627.90,223.35 L629.68,222.44 L631.20,220.93 L632.49,218.94 L633.59,217.21 L634.56,216.62 L635.44,217.59 L636.23,219.62 L636.94,222.12 L637.56,224.61 L638.10,227.03 L638.56,229.38 L638.96,231.66 L639.28,233.88 L639.55,236.04 L639.75,238.15 L639.90,240.21 L640.00,242.22 L640.05,244.19 L640.07,246.12 L640.04,248.02 L639.98,249.89 L639.90,251.73 L639.78,253.55 L639.65,255.35 L639.50,257.14 L639.34,258.92 L639.17,260.69 L639.00,262.46 L638.83,264.23 L638.67,266.00 L638.51,267.79 L638.37,269.59 L638.24,271.40 L638.14,273.24 L638.06,275.11 L638.02,277.00 L638.01,278.93 L638.04,280.89 L638.11,282.90 L638.23,284.95 L638.40,287.05 L638.63,289.21 L638.92,291.42 L639.27,293.69 L639.70,296.03 L640.19,298.43 L640.73,300.76 L641.28,302.86 L641.82,304.57 L642.30,305.73 L642.72,306.24 L643.06,306.14 L643.35,305.49 L643.58,304.35 L643.76,302.77 L643.89,300.81 L644.00,298.51 L644.07,295.95 L644.12,293.16 L644.15,290.22 L644.18,287.16 L644.19,284.06 L644.22,280.96 L644.25,277.92 L644.29,274.99 L644.36,272.22 L644.44,269.62 L644.55,267.17 L644.66,264.86 L644.80,262.67 L644.94,260.58 L645.09,258.60 L645.25,256.69 L645.41,254.86 L645.57,253.08 L645.73,251.35 L645.89,249.64 L646.04,247.95 L646.19,246.26 L646.32,244.55 L646.44,242.83 L646.55,241.06 L646.64,239.25 L646.72,237.40 L646.79,235.51 L646.85,233.59 L646.91,231.63 L646.96,229.65 L647.02,227.65 L647.07,225.62 L647.13,223.58 L647.20,221.52 L647.28,219.46 L647.37,217.38 L647.48,215.30 L647.60,213.22 L647.74,211.15 L647.90,209.08 L648.09,207.02 L648.30,204.98 L648.55,202.95 L648.81,200.93 L649.10,198.93 L649.40,196.94 L649.71,194.95 L650.02,192.98 L650.33,191.01 L650.63,189.04 L650.91,187.07 L651.18,185.10 L651.43,183.13 L651.65,181.15 L651.83,179.17 L651.98,177.17 L652.08,175.17 L652.16,173.16 L652.24,171.15 L652.33,169.14 L652.47,167.14 L652.66,165.16 L652.95,163.19 L653.33,161.25 L653.85,159.34 L654.51,157.46 L655.35,155.62 L656.38,153.83 L657.62,152.09 L659.10,150.43 L660.77,149.11 L662.58,148.47 L664.48,148.81 L666.41,149.75 L668.32,150.65 L670.18,151.01 L671.96,150.84 L673.66,150.24 L675.26,149.27 L676.76,148.03 L678.14,146.60 L679.41,145.02 L680.55,143.30 L681.56,141.48 L682.45,139.57 L683.20,137.60 L683.84,135.60 L684.39,133.58 L684.90,131.57 L685.44,129.61 L686.05,127.71 L686.78,125.90 L687.67,124.22 L688.79,122.68 L690.16,121.29 L691.70,120.01 L693.28,118.74 L694.82,117.42 L696.25,116.00 L697.59,114.52 L698.91,113.02 L700.23,111.53 L701.61,110.09 L703.03,108.69 L704.51,107.36 L706.03,106.07 L707.60,104.83 L709.21,103.64 L710.86,102.51 L712.54,101.42 L714.26,100.38 L716.01,99.39 L717.79,98.45 L719.59,97.56 L721.41,96.71 L723.26,95.91 L725.12,95.15 L726.99,94.44 L728.88,93.77 L730.78,93.13 L732.69,92.53 L734.61,91.95 L736.54,91.40 L738.47,90.87 L740.41,90.35 L742.35,89.85 L744.29,89.35 L746.23,88.85 L748.18,88.36 L750.11,87.86 L752.05,87.35 L753.98,86.83 L755.90,86.30 L757.81,85.74 L759.71,85.16 L761.60,84.55 L763.48,83.91 L765.35,83.27 L767.21,82.68 L769.07,82.19 L770.93,81.84 L772.80,81.67 L774.67,81.73 L776.55,82.07 L778.45,82.73 L780.37,83.73 L782.29,84.97 L784.19,86.23 L786.06,87.31 L787.86,87.99 L789.58,88.07 L791.22,87.54 L792.82,86.56 L794.40,85.28 L795.99,83.86 L797.61,82.47 L799.31,81.23 L801.06,80.18 L802.87,79.30 L804.72,78.57 L806.62,77.98 L808.54,77.51 L810.49,77.16 L812.44,76.91 L814.41,76.75 L816.39,76.67 L818.37,76.66 L820.37,76.72 L822.36,76.84 L824.36,77.00 L826.37,77.21 L828.37,77.45 L830.38,77.71 L832.39,77.99 L834.39,78.29 L836.39,78.58 L838.39,78.87 L840.39,79.14 L842.37,79.40 L844.36,79.63 L846.34,79.84 L848.31,80.03 L850.29,80.20 L852.26,80.35 L854.23,80.48 L856.21,80.59 L858.18,80.67 L860.16,80.73 L862.14,80.77 L864.13,80.79 L866.12,80.78 L868.12,80.75 L870.13,80.70 L872.14,80.63 L874.16,80.55 L876.19,80.45 L878.21,80.35 L880.24,80.25 L882.27,80.16 L884.30,80.07 L886.33,79.99 L888.36,79.93 L890.39,79.89 L892.41,79.88 L894.43,79.89 L896.44,79.94 L898.44,80.03 L900.44,80.16 L902.43,80.34 L904.40,80.56 L906.37,80.85 L908.33,81.19 L910.27,81.60 L912.19,82.07 L914.11,82.62 L916.00,83.23 L917.88,83.92 L919.73,84.66 L921.56,85.47 L923.36,86.35 L925.13,87.28 L926.87,88.27 L928.58,89.32 L930.26,90.43 L931.89,91.59 L933.49,92.80 L935.05,94.06 L936.56,95.37 L938.02,96.73 L939.44,98.13 L940.81,99.58 L942.12,101.06 L943.39,102.59 L944.60,104.16 L945.76,105.76 L946.87,107.40 L947.94,109.07 L948.97,110.77 L949.95,112.50 L950.89,114.26 L951.79,116.04 L952.65,117.85 L953.48,119.67 L954.27,121.52 L955.03,123.39 L955.76,125.27 L956.46,127.17 L957.14,129.07 L957.78,130.99 L958.40,132.92 L959.00,134.85 L959.58,136.79 L960.14,138.74 L960.67,140.68 L961.19,142.63 L961.70,144.57 L962.18,146.52 L962.65,148.48 L963.11,150.43 L963.54,152.39 L963.97,154.34 L964.37,156.30 L964.77,158.26 L965.15,160.23 L965.51,162.19 L965.87,164.16 L966.21,166.12 L966.53,168.09 L966.85,170.06 L967.16,172.03 L967.45,174.01 L967.74,175.98 L968.01,177.96 L968.28,179.93 L968.54,181.91 L968.79,183.89 L969.03,185.87 L969.26,187.85 L969.49,189.83 L969.71,191.81 L969.93,193.79 L970.14,195.78 L970.34,197.76 L970.55,199.75 L970.74,201.74 L970.93,203.72 L971.12,205.71 L971.31,207.70 L971.50,209.69 L971.68,211.68 L971.86,213.66 L972.04,215.65 L972.21,217.64 L972.39,219.64 L972.56,221.63 L972.73,223.62 L972.90,225.61 L973.06,227.60 L973.23,229.60 L973.39,231.59 L973.55,233.58 L973.71,235.58 L973.86,237.57 L974.02,239.57 L974.18,241.56 L974.33,243.56 L974.48,245.55 L974.63,247.55 L974.78,249.55 L974.93,251.54 L975.08,253.54 L975.22,255.54 L975.37,257.53 L975.51,259.53 L975.66,261.53 L975.80,263.53 L975.94,265.52 L976.09,267.52 L976.23,269.52 L976.37,271.52 L976.51,273.52 L976.65,275.52 L976.79,277.51 L976.93,279.51 L977.07,281.51 L977.21,283.51 L977.35,285.51 L977.49,287.51 L977.63,289.51 L977.77,291.51 L977.91,293.50 L978.05,295.50 L978.20,297.50 L978.34,299.50 L978.48,301.50 L978.62,303.50 L978.77,305.50 L978.91,307.49 L979.06,309.49 L979.20,311.49 L979.35,313.49 L979.50,315.49 L979.65,317.48 L979.80,319.48 L979.95,321.48 L980.10,323.48 L980.26,325.47 L980.41,327.47 L980.57,329.47 L980.73,331.46 L980.89,333.46 L981.05,335.45 L981.21,337.45 L981.38,339.45 L981.54,341.44 L981.71,343.43 L981.88,345.43 L982.06,347.42 L982.23,349.42 L982.41,351.41 L982.59,353.40 L982.77,355.39 L982.95,357.38 L983.14,359.38 L983.33,361.37 L983.52,363.36 L983.71,365.35 L983.91,367.34 L984.11,369.33 L984.31,371.31 L984.52,373.30 L984.73,375.29 L984.94,377.28 L985.15,379.26 L985.37,381.25 L985.59,383.24 L985.82,385.22 L986.05,387.21 L986.28,389.19 L986.51,391.18 L986.75,393.16 L987.00,395.15 L987.25,397.13 L987.50,399.11 L987.75,401.10 L988.01,403.08 L988.28,405.06 L988.55,407.04 L988.82,409.02 L989.10,411.01 L989.38,412.99 L989.67,414.97 L989.96,416.95 L990.26,418.93 L990.56,420.91 L990.86,422.89 L991.18,424.87 L991.49,426.85 L991.82,428.82 L992.14,430.80 L992.48,432.78 L992.83,434.76 L993.18,436.73 L993.55,438.70 L993.94,440.66 L994.34,442.62 L994.76,444.57 L995.20,446.52 L995.66,448.45 L996.15,450.38 L996.67,452.30 L997.21,454.21 L997.78,456.11 L998.39,458.00 L999.02,459.88 L999.69,461.76 L1000.39,463.65 L1001.13,465.56 L1001.89,467.47 L1002.74,469.37 L1003.77,471.16 L1005.11,472.70 L1006.55,473.43 L1007.75,472.64 L1008.70,470.79 L1009.49,468.62 L1010.16,466.53 L1010.74,464.53 L1011.25,462.58 L1011.72,460.67 L1012.16,458.76 L1012.59,456.84 L1013.00,454.92 L1013.41,452.99 L1013.80,451.05 L1014.18,449.11 L1014.55,447.16 L1014.91,445.20 L1015.26,443.24 L1015.60,441.28 L1015.93,439.31 L1016.26,437.33 L1016.57,435.36 L1016.88,433.37 L1017.19,431.39 L1017.49,429.41 L1017.78,427.42 L1018.07,425.43 L1018.35,423.44 L1018.64,421.44 L1018.92,419.45 L1019.19,417.46 L1019.47,415.47 L1019.74,413.47 L1020.01,411.48 L1020.29,409.49 L1020.56,407.50 L1020.84,405.51 L1021.12,403.53 L1021.41,401.55 L1021.73,399.58 L1022.06,397.61 L1022.41,395.65 L1022.79,393.69 L1023.21,391.75 L1023.67,389.81 L1024.16,387.89 L1024.71,385.98 L1025.30,384.08 L1025.95,382.20 L1026.66,380.33 L1027.44,378.47 L1028.27,376.63 L1029.12,374.80 L1029.95,372.97 L1030.72,371.12 L1031.41,369.27 L1032.02,367.40 L1032.57,365.52 L1033.05,363.62 L1033.47,361.72 L1033.85,359.80 L1034.17,357.86 L1034.46,355.92 L1034.72,353.96 L1034.94,351.99 L1035.14,350.01 L1035.33,348.01 L1035.51,346.01 L1035.68,343.99 L1035.84,341.96 L1036.00,339.92 L1036.16,337.88 L1036.32,335.83 L1036.47,333.77 L1036.62,331.71 L1036.77,329.65 L1036.91,327.59 L1037.06,325.52 L1037.21,323.46 L1037.36,321.41 L1037.50,319.36 L1037.65,317.31 L1037.80,315.27 L1037.96,313.24 L1038.11,311.23 L1038.27,309.22 L1038.43,307.23 L1038.60,305.25 L1038.77,303.29 L1038.94,301.34 L1039.12,299.41 L1039.31,297.51 L1039.50,295.62 L1039.70,293.76 L1039.91,291.92 L1040.12,290.11 L1040.35,288.32 L1040.59,286.53 L1040.88,284.71 L1041.20,282.85 L1041.59,280.93 L1042.04,278.91 L1042.57,276.79 L1043.19,274.53 L1043.92,272.13 L1044.74,269.68 L1045.63,267.60 L1046.55,266.30 L1047.45,266.19 L1048.32,267.32 L1049.14,269.30 L1049.89,271.74 L1050.57,274.24 L1051.16,276.51 L1051.68,278.56 L1052.15,280.43 L1052.58,282.20 L1053.00,283.92 L1053.42,285.65 L1053.86,287.45 L1054.34,289.37 L1054.88,291.47 L1055.49,293.82 L1056.20,296.33 L1057.00,298.67 L1057.91,300.52 L1058.94,301.54 L1060.10,301.40 L1061.37,300.17 L1062.70,298.35 L1064.06,296.45 L1065.40,295.01 L1066.67,294.54 L1067.84,295.26 L1068.91,296.88 L1069.87,299.04 L1070.71,301.41 L1071.43,303.65 L1072.05,305.67 L1072.58,307.55 L1073.05,309.34 L1073.49,311.13 L1073.91,312.95 L1074.31,314.80 L1074.69,316.68 L1075.05,318.59 L1075.39,320.52 L1075.71,322.48 L1076.01,324.45 L1076.30,326.44 L1076.58,328.45 L1076.83,330.47 L1077.07,332.51 L1077.30,334.55 L1077.51,336.60 L1077.71,338.66 L1077.90,340.71 L1078.07,342.77 L1078.24,344.83 L1078.39,346.88 L1078.53,348.93 L1078.66,350.97 L1078.78,353.00 L1078.89,355.02 L1078.99,357.02 L1079.09,359.01 L1079.18,360.98 L1079.26,362.92 L1079.34,364.85 L1079.41,366.74 L1079.47,368.61 L1079.53,370.46 L1079.59,372.27 L1079.64,374.05 L1079.69,375.82 L1079.74,377.58 L1079.78,379.32 L1079.82,381.07 L1079.85,382.81 L1079.89,384.57 L1079.92,386.34 L1079.95,388.12 L1079.97,389.93 L1080.00,391.77 L1080.02,393.65 L1080.04,395.57 L1080.06,397.53 L1080.08,399.54 L1080.09,401.61 L1080.11,403.74 L1080.12,405.94 L1080.14,408.21 L1080.15,410.56 L1080.16,412.99 L1080.18,415.51 L1080.19,418.12 L1080.20,420.84 L1080.21,423.65 L1080.23,426.53 L1080.24,429.46 L1080.26,432.41 L1080.28,435.36 L1080.29,438.29 L1080.31,441.18 L1080.33,443.99 L1080.35,446.70 L1080.38,449.30 L1080.40,451.75 L1080.43,454.03 L1080.46,456.12 L1080.49,458.00 L1080.52,459.64 L1080.56,461.01 L1080.60,462.10 L1080.64,462.87 L1080.69,463.31 L1080.73,463.40 L1080.78,463.09 L1080.84,462.39 L1080.90,461.31 L1080.96,459.89 L1081.02,458.19 L1081.08,456.24 L1081.15,454.08 L1081.21,451.76 L1081.28,449.32 L1081.35,446.80 L1081.41,444.25 L1081.47,441.72 L1081.54,439.23 L1081.60,436.82 L1081.65,434.49 L1081.71,432.23 L1081.77,430.03 L1081.82,427.89 L1081.88,425.81 L1081.93,423.77 L1081.99,421.78 L1082.04,419.83 L1082.10,417.91 L1082.15,416.02 L1082.21,414.15 L1082.27,412.29 L1082.33,410.45 L1082.39,408.62 L1082.46,406.78 L1082.53,404.95 L1082.60,403.10 L1082.67,401.24 L1082.75,399.36 L1082.83,397.46 L1082.92,395.53 L1083.01,393.59 L1083.09,391.63 L1083.18,389.66 L1083.27,387.67 L1083.36,385.66 L1083.45,383.65 L1083.54,381.63 L1083.62,379.60 L1083.70,377.57 L1083.78,375.53 L1083.85,373.49 L1083.92,371.45 L1083.98,369.42 L1084.04,367.38 L1084.09,365.35 L1084.13,363.33 L1084.17,361.30 L1084.20,359.28 L1084.24,357.26 L1084.26,355.24 L1084.29,353.23 L1084.31,351.21 L1084.33,349.20 L1084.35,347.20 L1084.37,345.19 L1084.39,343.18 L1084.41,341.18 L1084.43,339.18 L1084.45,337.18 L1084.47,335.18 L1084.49,333.19 L1084.52,331.19 L1084.55,329.20 L1084.58,327.21 L1084.62,325.22 L1084.66,323.22 L1084.70,321.24 L1084.75,319.25 L1084.81,317.26 L1084.87,315.27 L1084.94,313.28 L1085.02,311.30 L1085.10,309.31 L1085.20,307.32 L1085.30,305.34 L1085.41,303.35 L1085.53,301.37 L1085.66,299.38 L1085.79,297.40 L1085.94,295.41 L1086.10,293.43 L1086.27,291.44 L1086.45,289.46 L1086.64,287.47 L1086.84,285.49 L1087.05,283.50 L1087.28,281.52 L1087.52,279.53 L1087.77,277.55 L1088.03,275.57 L1088.31,273.58 L1088.60,271.59 L1088.90,269.61 L1089.22,267.62 L1089.55,265.64 L1089.89,263.65 L1090.25,261.67 L1090.63,259.68 L1091.02,257.69 L1091.43,255.71 L1091.85,253.72 L1092.28,251.74 L1092.73,249.75 L1093.17,247.78 L1093.62,245.81 L1094.07,243.84 L1094.52,241.89 L1094.95,239.95 L1095.38,238.02 L1095.79,236.11 L1096.19,234.21 L1096.56,232.33 L1096.91,230.46 L1097.24,228.62 L1097.54,226.80 L1097.85,224.96 L1098.21,223.09 L1098.66,221.14 L1099.25,219.08 L1100.02,216.89 L1100.97,214.64 L1102.06,212.54 L1103.26,210.84 L1104.51,209.76 L1105.78,209.52 L1107.03,210.24 L1108.24,211.71 L1109.42,213.72 L1110.55,216.05 L1111.63,218.51 L1112.68,220.93 L1113.72,223.14 L1114.76,224.98 L1115.83,226.27 L1116.94,226.85 L1118.10,226.55 L1119.31,225.43 L1120.52,223.72 L1121.70,221.65 L1122.80,219.49 L1123.80,217.43 L1124.69,215.48 L1125.48,213.61 L1126.18,211.80 L1126.79,210.01 L1127.34,208.20 L1127.82,206.36 L1128.25,204.45 L1128.63,202.45 L1129.05,200.40 L1129.58,198.38 L1130.30,196.46 L1131.29,194.70 L1132.65,193.18 L1134.38,192.03 L1136.18,191.67 L1137.73,192.39 L1139.03,193.92 L1140.13,195.88 L1141.06,197.92 L1141.86,199.92 L1142.54,201.90 L1143.12,203.86 L1143.63,205.80 L1144.08,207.72 L1144.50,209.64 L1144.91,211.56 L1145.31,213.49 L1145.71,215.41 L1146.11,217.34 L1146.51,219.27 L1146.90,221.20 L1147.29,223.14 L1147.68,225.08 L1148.07,227.03 L1148.45,228.97 L1148.83,230.92 L1149.20,232.88 L1149.57,234.84 L1149.93,236.80 L1150.29,238.76 L1150.65,240.73 L1150.99,242.71 L1151.34,244.69 L1151.67,246.67 L1152.00,248.65 L1152.32,250.65 L1152.64,252.64 L1152.95,254.64 L1153.25,256.64 L1153.55,258.65 L1153.84,260.65 L1154.13,262.66 L1154.42,264.67 L1154.71,266.68 L1154.99,268.68 L1155.28,270.69 L1155.56,272.69 L1155.85,274.69 L1156.13,276.69 L1156.42,278.68 L1156.72,280.67 L1157.01,282.66 L1157.32,284.63 L1157.62,286.60 L1157.94,288.57 L1158.26,290.52 L1158.58,292.47 L1158.92,294.41 L1159.26,296.33 L1159.62,298.25 L1159.98,300.16 L1160.36,302.05 L1160.75,303.93 L1161.15,305.80 L1161.57,307.66 L1162.02,309.52 L1162.52,311.39 L1163.07,313.28 L1163.68,315.20 L1164.37,317.16 L1165.14,319.16 L1166.02,321.21 L1167.00,323.33 L1168.09,325.48 L1169.26,327.49 L1170.44,329.16 L1171.60,330.28 L1172.68,330.66 L1173.66,330.22 L1174.54,329.07 L1175.33,327.35 L1176.04,325.19 L1176.68,322.73 L1177.25,320.09 L1177.77,317.41 L1178.24,314.82 L1178.67,312.38 L1179.07,310.07 L1179.42,307.87 L1179.75,305.79 L1180.04,303.79 L1180.31,301.87 L1180.55,300.01 L1180.77,298.20 L1180.97,296.42 L1181.16,294.65 L1181.34,292.89 L1181.51,291.11 L1181.67,289.31 L1181.83,287.48 L1181.99,285.61 L1182.14,283.71 L1182.30,281.79 L1182.45,279.84 L1182.59,277.87 L1182.74,275.88 L1182.89,273.88 L1183.04,271.86 L1183.19,269.83 L1183.34,267.79 L1183.49,265.74 L1183.64,263.69 L1183.80,261.64 L1183.96,259.58 L1184.13,257.53 L1184.30,255.49 L1184.48,253.45 L1184.65,251.42 L1184.84,249.39 L1185.02,247.37 L1185.21,245.35 L1185.41,243.33 L1185.60,241.32 L1185.80,239.31 L1186.00,237.31 L1186.20,235.31 L1186.40,233.31 L1186.61,231.32 L1186.82,229.32 L1187.02,227.33 L1187.23,225.35 L1187.44,223.36 L1187.65,221.38 L1187.85,219.39 L1188.06,217.41 L1188.27,215.43 L1188.47,213.45 L1188.68,211.47 L1188.88,209.49 L1189.08,207.52 L1189.28,205.54 L1189.48,203.56 L1189.67,201.58 L1189.86,199.60 L1190.05,197.62 L1190.24,195.64 L1190.43,193.65 L1190.61,191.67 L1190.80,189.69 L1190.98,187.70 L1191.17,185.72 L1191.36,183.74 L1191.55,181.75 L1191.74,179.77 L1191.93,177.78 L1192.13,175.80 L1192.33,173.81 L1192.54,171.83 L1192.75,169.84 L1192.96,167.86 L1193.18,165.87 L1193.41,163.88 L1193.64,161.90 L1193.88,159.91 L1194.12,157.93 L1194.38,155.94 L1194.64,153.96 L1194.91,151.97 L1195.19,149.99 L1195.48,148.00 L1195.78,146.02 L1196.09,144.04 L1196.41,142.05 L1196.75,140.07 L1197.09,138.09 L1197.45,136.11 L1197.82,134.13 L1198.20,132.15 L1198.60,130.17 L1199.01,128.19 L1199.44,126.21 L1199.88,124.23 L1200.34,122.26 L1200.81,120.28 L1201.31,118.31 L1201.82,116.33 L1202.35,114.37 L1202.92,112.42 L1203.52,110.49 L1204.16,108.58 L1204.85,106.70 L1205.60,104.86 L1206.40,103.06 L1207.26,101.30 L1208.20,99.59 L1209.21,97.94 L1210.31,96.35 L1211.49,94.83 L1212.76,93.37 L1214.14,92.00 L1215.61,90.70 L1217.20,89.50 L1218.90,88.38 L1220.72,87.37 L1222.64,86.43 L1224.56,85.50 L1226.39,84.48 L1228.01,83.29 L1229.34,81.86 L1230.42,80.22 L1231.39,78.47 L1232.41,76.72 L1233.60,75.09 L1235.11,73.67 L1236.97,72.57 L1238.96,71.88 L1240.84,71.69 L1242.42,72.05 L1243.70,72.91 L1244.73,74.20 L1245.55,75.84 L1246.21,77.77 L1246.73,79.90 L1247.17,82.16 L1247.56,84.48 L1247.95,86.79 L1248.38,89.03 L1248.85,91.17 L1249.39,93.21 L1249.99,95.18 L1250.67,97.05 L1251.42,98.85 L1252.26,100.57 L1253.19,102.22 L1254.22,103.80 L1255.35,105.32 L1256.60,106.77 L1257.96,108.17 L1259.46,109.51 L1261.07,110.81 L1262.75,112.09 L1264.36,113.43 L1265.80,114.89 L1266.98,116.50 L1267.96,118.22 L1268.81,120.03 L1269.60,121.88 L1270.40,123.72 L1271.27,125.52 L1272.24,127.25 L1273.30,128.94 L1274.44,130.57 L1275.64,132.16 L1276.89,133.72 L1278.18,135.25 L1279.49,136.75 L1280.82,138.23 L1282.17,139.70 L1283.52,141.17 L1284.86,142.63 L1286.20,144.10 L1287.52,145.58 L1288.82,147.08 L1290.09,148.59 L1291.32,150.14 L1292.51,151.71 L1293.65,153.33 L1294.74,154.99 L1295.76,156.70 L1296.71,158.47 L1297.58,160.30 L1298.38,162.19 L1299.10,164.13 L1299.78,166.08 L1300.43,168.02 L1301.06,169.93 L1301.71,171.77 L1302.37,173.54 L1303.04,175.28 L1303.71,177.03 L1304.36,178.84 L1304.97,180.77 L1305.54,182.87 L1306.05,185.18 L1306.49,187.69 L1306.88,190.31 L1307.20,192.92 L1307.48,195.43 L1307.71,197.74 L1307.90,199.74 L1308.06,201.34 L1308.19,202.43 L1308.29,202.91 L1308.38,202.70 L1308.47,201.87 L1308.57,200.51 L1308.70,198.69 L1308.89,196.51 L1309.13,194.06 L1309.46,191.42 L1309.89,188.68 L1310.44,185.92 L1311.11,183.24 L1311.93,180.76 L1312.82,178.81 L1313.70,177.87 L1314.50,178.23 L1315.20,179.69 L1315.82,181.97 L1316.38,184.77 L1316.89,187.82 L1317.34,190.89 L1317.75,193.91 L1318.13,196.85 L1318.46,199.66 L1318.76,202.30 L1319.04,204.73 L1319.28,206.91 L1319.50,208.79 L1319.70,210.34 L1319.89,211.51 L1320.05,212.26 L1320.21,212.55 L1320.36,212.34 L1320.51,211.63 L1320.65,210.48 L1320.79,208.94 L1320.94,207.08 L1321.09,204.96 L1321.25,202.62 L1321.42,200.14 L1321.60,197.55 L1321.79,194.94 L1322.00,192.34 L1322.24,189.83 L1322.49,187.45 L1322.77,185.21 L1323.06,183.10 L1323.38,181.10 L1323.72,179.17 L1324.07,177.30 L1324.45,175.47 L1324.83,173.65 L1325.24,171.83 L1325.65,169.98 L1326.08,168.11 L1326.53,166.21 L1326.98,164.28 L1327.45,162.34 L1327.93,160.39 L1328.42,158.43 L1328.92,156.46 L1329.43,154.49 L1329.95,152.52 L1330.48,150.56 L1331.02,148.60 L1331.56,146.66 L1332.12,144.72 L1332.69,142.78 L1333.27,140.86 L1333.85,138.94 L1334.45,137.02 L1335.06,135.12 L1335.68,133.22 L1336.31,131.32 L1336.96,129.43 L1337.61,127.55 L1338.28,125.68 L1338.96,123.80 L1339.65,121.94 L1340.36,120.08 L1341.08,118.22 L1341.81,116.37 L1342.55,114.52 L1343.31,112.68 L1344.09,110.84 L1344.87,109.00 L1345.67,107.17 L1346.49,105.34 L1347.32,103.52 L1348.17,101.70 L1349.04,99.89 L1349.93,98.09 L1350.85,96.30 L1351.80,94.53 L1352.77,92.79 L1353.79,91.06 L1354.84,89.37 L1355.94,87.70 L1357.08,86.07 L1358.27,84.48 L1359.51,82.93 L1360.81,81.42 L1362.16,79.96 L1363.57,78.55 L1365.05,77.20 L1366.60,75.90 L1368.22,74.66 L1369.91,73.49" fill="none" stroke="#d4343b" stroke-width="1.7" stroke-linejoin="round"/>
<path d="M291.00,95.00 L292.92,94.47 L294.85,93.97 L296.79,93.51 L298.75,93.08 L300.73,92.70 L302.71,92.35 L304.70,92.05 L306.69,91.79 L308.69,91.57 L310.70,91.40 L312.70,91.27 L314.71,91.20 L316.71,91.17 L318.71,91.19 L320.70,91.27 L322.69,91.39 L324.67,91.56 L326.65,91.75 L328.63,91.96 L330.61,92.18 L332.60,92.39 L334.59,92.60 L336.58,92.77 L338.59,92.92 L340.60,93.02 L342.63,93.07 L344.67,93.05 L346.72,93.01 L348.77,92.95 L350.81,92.90 L352.84,92.90 L354.86,92.97 L356.86,93.12 L358.83,93.40 L360.76,93.82 L362.65,94.40 L364.50,95.12 L366.29,95.98 L368.03,96.97 L369.69,98.08 L371.29,99.29 L372.81,100.59 L374.24,101.98 L375.58,103.45 L376.83,104.98 L378.00,106.57 L379.10,108.22 L380.12,109.91 L381.08,111.66 L381.99,113.44 L382.84,115.26 L383.64,117.11 L384.41,118.98 L385.13,120.86 L385.84,122.77 L386.52,124.67 L387.18,126.58 L387.82,128.50 L388.46,130.41 L389.07,132.32 L389.68,134.24 L390.27,136.16 L390.85,138.08 L391.41,140.00 L391.97,141.92 L392.51,143.84 L393.04,145.77 L393.56,147.69 L394.07,149.62 L394.57,151.55 L395.07,153.48 L395.55,155.42 L396.03,157.35 L396.49,159.29 L396.96,161.22 L397.41,163.16 L397.86,165.10 L398.30,167.05 L398.74,168.99 L399.18,170.94 L399.61,172.89 L400.03,174.84 L400.46,176.79 L400.88,178.74 L401.29,180.70 L401.70,182.65 L402.11,184.61 L402.52,186.57 L402.93,188.53 L403.33,190.49 L403.73,192.45 L404.13,194.41 L404.53,196.37 L404.93,198.34 L405.33,200.30 L405.72,202.27 L406.12,204.23 L406.51,206.20 L406.91,208.16 L407.31,210.13 L407.70,212.09 L408.10,214.06 L408.50,216.02 L408.90,217.99 L409.30,219.95 L409.70,221.92 L410.11,223.88 L410.52,225.84 L410.93,227.81 L411.34,229.77 L411.75,231.73 L412.17,233.69 L412.59,235.65 L413.02,237.61 L413.45,239.57 L413.88,241.52 L414.32,243.48 L414.76,245.43 L415.21,247.38 L415.66,249.33 L416.12,251.28 L416.58,253.23 L417.05,255.17 L417.52,257.11 L418.00,259.05 L418.49,260.99 L418.98,262.93 L419.48,264.86 L419.99,266.80 L420.50,268.73 L421.02,270.66 L421.54,272.59 L422.06,274.51 L422.59,276.44 L423.13,278.36 L423.67,280.29 L424.21,282.21 L424.75,284.13 L425.30,286.06 L425.85,287.98 L426.40,289.90 L426.96,291.82 L427.52,293.74 L428.07,295.66 L428.63,297.59 L429.19,299.51 L429.75,301.43 L430.31,303.36 L430.87,305.28 L431.44,307.21 L432.00,309.14 L432.55,311.07 L433.11,313.00 L433.67,314.93 L434.22,316.86 L434.77,318.80 L435.33,320.73 L435.88,322.67 L436.45,324.60 L437.03,326.53 L437.62,328.45 L438.23,330.36 L438.87,332.25 L439.55,334.13 L440.25,336.00 L440.99,337.84 L441.78,339.67 L442.61,341.47 L443.49,343.25 L444.43,345.00 L445.43,346.72 L446.49,348.40 L447.62,350.06 L448.82,351.67 L450.10,353.25 L451.46,354.79 L452.91,356.28 L454.44,357.72 L456.04,359.07 L457.71,360.31 L459.44,361.38 L461.22,362.27 L463.03,362.94 L464.86,363.35 L466.71,363.48 L468.57,363.27 L470.42,362.77 L472.27,362.02 L474.10,361.10 L475.90,360.09 L477.68,359.03 L479.44,357.95 L481.16,356.84 L482.87,355.70 L484.54,354.54 L486.19,353.35 L487.82,352.14 L489.42,350.90 L490.99,349.64 L492.55,348.36 L494.08,347.05 L495.59,345.73 L497.07,344.38 L498.54,343.01 L499.98,341.63 L501.40,340.22 L502.81,338.80 L504.19,337.36 L505.55,335.90 L506.90,334.43 L508.23,332.94 L509.53,331.44 L510.83,329.93 L512.10,328.40 L513.36,326.86 L514.60,325.30 L515.84,323.74 L517.06,322.17 L518.26,320.58 L519.46,318.99 L520.65,317.39 L521.83,315.79 L523.01,314.18 L524.18,312.56 L525.34,310.94 L526.50,309.31 L527.66,307.68 L528.82,306.05 L529.97,304.42 L531.13,302.79 L532.29,301.15 L533.45,299.52 L534.62,297.89 L535.79,296.26 L536.97,294.64 L538.16,293.02 L539.35,291.40 L540.55,289.79 L541.77,288.19 L542.99,286.59 L544.21,284.99 L545.45,283.41 L546.69,281.83 L547.94,280.25 L549.20,278.68 L550.46,277.12 L551.73,275.57 L553.01,274.02 L554.29,272.48 L555.58,270.95 L556.87,269.43 L558.17,267.92 L559.48,266.41 L560.79,264.92 L562.10,263.43 L563.42,261.95 L564.75,260.48 L566.07,259.02 L567.40,257.58 L568.74,256.14 L570.08,254.71 L571.42,253.29 L572.77,251.89 L574.11,250.48 L575.46,249.04 L576.80,247.54 L578.13,245.94 L579.44,244.21 L580.74,242.31 L582.02,240.25 L583.29,238.24 L584.55,236.57 L585.82,235.51 L587.11,235.36 L588.41,236.23 L589.68,237.83 L590.85,239.82 L591.88,241.86 L592.76,243.83 L593.54,245.73 L594.23,247.58 L594.88,249.40 L595.50,251.19 L596.14,252.97 L596.81,254.76 L597.57,256.56 L598.43,258.39 L599.43,260.26 L600.59,262.19 L601.92,264.00 L603.40,265.37 L604.99,265.93 L606.66,265.47 L608.29,264.23 L609.79,262.51 L611.04,260.63 L612.03,258.75 L612.80,256.86 L613.39,254.95 L613.85,253.04 L614.23,251.10 L614.58,249.15 L614.95,247.18 L615.34,245.19 L615.77,243.20 L616.22,241.20 L616.70,239.23 L617.20,237.27 L617.73,235.35 L618.29,233.46 L618.86,231.63 L619.46,229.86 L620.07,228.13 L620.71,226.39 L621.35,224.59 L622.01,222.71 L622.68,220.67 L623.36,218.46 L624.04,216.04 L624.74,213.64 L625.46,211.59 L626.22,210.21 L627.03,209.82 L627.87,210.52 L628.74,212.07 L629.60,214.23 L630.43,216.76 L631.21,219.41 L631.91,221.94 L632.53,224.31 L633.09,226.52 L633.58,228.59 L634.01,230.56 L634.40,232.44 L634.74,234.25 L635.06,236.02 L635.35,237.77 L635.62,239.51 L635.89,241.28 L636.16,243.09 L636.43,244.96 L636.70,246.87 L636.97,248.83 L637.25,250.82 L637.51,252.84 L637.78,254.87 L638.03,256.90 L638.27,258.94 L638.50,260.97 L638.72,262.98 L638.91,264.96 L639.09,266.92 L639.25,268.85 L639.40,270.75 L639.53,272.64 L639.65,274.51 L639.75,276.36 L639.84,278.21 L639.92,280.04 L639.99,281.87 L640.05,283.70 L640.10,285.53 L640.15,287.36 L640.19,289.19 L640.22,291.04 L640.25,292.89 L640.27,294.76 L640.30,296.65 L640.32,298.55 L640.34,300.48 L640.36,302.43 L640.38,304.42 L640.40,306.43 L640.43,308.48 L640.46,310.56 L640.50,312.68 L640.54,314.85 L640.59,317.06 L640.64,319.32 L640.71,321.62 L640.79,323.99 L640.87,326.41 L640.97,328.89 L641.09,331.42 L641.21,334.00 L641.34,336.58 L641.48,339.12 L641.63,341.60 L641.78,343.99 L641.93,346.23 L642.09,348.31 L642.24,350.19 L642.39,351.83 L642.53,353.20 L642.67,354.27 L642.80,354.99 L642.92,355.35 L643.03,355.36 L643.12,355.03 L643.21,354.39 L643.30,353.46 L643.37,352.26 L643.44,350.80 L643.50,349.11 L643.56,347.20 L643.61,345.10 L643.66,342.83 L643.71,340.41 L643.76,337.86 L643.80,335.19 L643.84,332.44 L643.89,329.61 L643.93,326.73 L643.98,323.81 L644.02,320.89 L644.07,317.97 L644.13,315.09 L644.19,312.25 L644.25,309.49 L644.32,306.81 L644.39,304.23 L644.47,301.75 L644.56,299.36 L644.65,297.05 L644.75,294.82 L644.85,292.66 L644.95,290.57 L645.05,288.54 L645.16,286.56 L645.27,284.63 L645.38,282.74 L645.49,280.89 L645.60,279.07 L645.71,277.27 L645.82,275.49 L645.93,273.72 L646.04,271.96 L646.15,270.20 L646.25,268.44 L646.36,266.66 L646.45,264.87 L646.55,263.05 L646.64,261.21 L646.72,259.34 L646.81,257.45 L646.89,255.53 L646.97,253.60 L647.05,251.64 L647.13,249.67 L647.21,247.69 L647.29,245.69 L647.38,243.67 L647.46,241.65 L647.55,239.61 L647.64,237.57 L647.74,235.52 L647.84,233.47 L647.95,231.41 L648.06,229.35 L648.18,227.28 L648.31,225.22 L648.44,223.16 L648.59,221.11 L648.74,219.06 L648.90,217.02 L649.08,214.98 L649.26,212.96 L649.46,210.94 L649.67,208.94 L649.89,206.95 L650.13,204.98 L650.38,203.03 L650.64,201.09 L650.91,199.16 L651.19,197.24 L651.47,195.32 L651.74,193.40 L652.02,191.49 L652.28,189.57 L652.54,187.63 L652.78,185.69 L653.01,183.74 L653.21,181.76 L653.40,179.77 L653.56,177.75 L653.69,175.70 L653.79,173.62 L653.85,171.51 L653.88,169.36 L653.86,167.17 L653.82,164.95 L653.83,162.75 L653.94,160.62 L654.24,158.61 L654.78,156.77 L655.65,155.16 L656.91,153.81 L658.55,152.72 L660.25,151.54 L661.67,150.03 L662.86,148.67 L663.97,148.19 L665.14,148.95 L666.40,150.52 L667.83,152.39 L669.42,154.11 L671.12,155.28 L672.89,155.52 L674.65,154.82 L676.31,153.57 L677.77,152.11 L679.03,150.55 L680.11,148.89 L681.03,147.14 L681.81,145.31 L682.47,143.42 L683.04,141.48 L683.52,139.50 L683.95,137.49 L684.35,135.46 L684.72,133.43 L685.10,131.41 L685.50,129.41 L685.95,127.43 L686.46,125.51 L687.06,123.63 L687.77,121.82 L688.60,120.10 L689.57,118.46 L690.72,116.92 L692.02,115.49 L693.47,114.14 L695.01,112.86 L696.63,111.63 L698.29,110.44 L699.96,109.26 L701.61,108.09 L703.24,106.92 L704.86,105.77 L706.49,104.63 L708.12,103.53 L709.76,102.46 L711.43,101.43 L713.12,100.45 L714.85,99.52 L716.61,98.65 L718.42,97.85 L720.27,97.11 L722.15,96.42 L724.06,95.80 L725.99,95.22 L727.95,94.70 L729.93,94.24 L731.92,93.82 L733.92,93.45 L735.93,93.14 L737.95,92.86 L739.96,92.64 L741.98,92.45 L743.99,92.31 L745.99,92.20 L747.98,92.10 L749.96,92.00 L751.93,91.87 L753.90,91.69 L755.86,91.44 L757.80,91.11 L759.74,90.66 L761.67,90.09 L763.59,89.36 L765.49,88.49 L767.38,87.61 L769.22,86.88 L771.01,86.48 L772.73,86.57 L774.40,87.14 L776.02,88.09 L777.63,89.31 L779.25,90.70 L780.89,92.13 L782.59,93.51 L784.36,94.72 L786.22,95.66 L788.08,96.19 L789.85,96.19 L791.47,95.60 L792.98,94.56 L794.43,93.22 L795.87,91.71 L797.35,90.18 L798.92,88.77 L800.59,87.51 L802.33,86.40 L804.14,85.45 L806.01,84.65 L807.91,84.00 L809.84,83.50 L811.79,83.14 L813.73,82.93 L815.68,82.84 L817.64,82.87 L819.60,83.01 L821.56,83.23 L823.52,83.53 L825.49,83.90 L827.46,84.31 L829.43,84.77 L831.40,85.25 L833.38,85.74 L835.35,86.24 L837.33,86.72 L839.31,87.18 L841.29,87.59 L843.26,87.97 L845.24,88.31 L847.22,88.62 L849.20,88.89 L851.18,89.14 L853.16,89.37 L855.14,89.58 L857.12,89.77 L859.10,89.95 L861.08,90.13 L863.06,90.30 L865.04,90.46 L867.02,90.63 L869.00,90.81 L870.98,91.00 L872.96,91.20 L874.94,91.42 L876.92,91.66 L878.91,91.92 L880.89,92.21 L882.87,92.53 L884.85,92.85 L886.83,93.15 L888.82,93.40 L890.81,93.56 L892.80,93.61 L894.80,93.60 L896.79,93.55 L898.79,93.51 L900.78,93.53 L902.76,93.65 L904.73,93.92 L906.69,94.33 L908.63,94.89 L910.54,95.56 L912.43,96.34 L914.27,97.20 L916.07,98.13 L917.83,99.12 L919.54,100.17 L921.20,101.27 L922.82,102.42 L924.40,103.63 L925.94,104.88 L927.43,106.18 L928.88,107.53 L930.30,108.92 L931.67,110.35 L933.01,111.82 L934.30,113.33 L935.57,114.88 L936.79,116.45 L937.98,118.06 L939.14,119.70 L940.26,121.37 L941.34,123.06 L942.40,124.78 L943.42,126.51 L944.42,128.27 L945.38,130.05 L946.31,131.84 L947.22,133.65 L948.09,135.47 L948.94,137.30 L949.77,139.14 L950.57,140.98 L951.34,142.83 L952.09,144.70 L952.82,146.56 L953.52,148.44 L954.20,150.32 L954.86,152.21 L955.50,154.10 L956.12,156.00 L956.72,157.91 L957.31,159.82 L957.87,161.73 L958.42,163.65 L958.95,165.58 L959.47,167.50 L959.98,169.44 L960.46,171.37 L960.94,173.31 L961.41,175.25 L961.86,177.20 L962.30,179.15 L962.73,181.10 L963.15,183.05 L963.56,185.00 L963.97,186.96 L964.36,188.92 L964.74,190.88 L965.12,192.84 L965.48,194.81 L965.84,196.78 L966.19,198.75 L966.53,200.72 L966.86,202.69 L967.18,204.66 L967.50,206.64 L967.81,208.62 L968.11,210.60 L968.41,212.58 L968.69,214.56 L968.98,216.54 L969.25,218.53 L969.52,220.51 L969.79,222.50 L970.05,224.49 L970.30,226.48 L970.55,228.47 L970.79,230.46 L971.03,232.45 L971.27,234.44 L971.50,236.43 L971.73,238.43 L971.95,240.42 L972.17,242.42 L972.38,244.41 L972.60,246.41 L972.81,248.40 L973.02,250.40 L973.22,252.40 L973.42,254.39 L973.63,256.39 L973.82,258.39 L974.02,260.38 L974.22,262.38 L974.41,264.37 L974.61,266.37 L974.80,268.37 L975.00,270.36 L975.19,272.36 L975.38,274.35 L975.58,276.34 L975.77,278.34 L975.97,280.33 L976.16,282.32 L976.35,284.31 L976.55,286.31 L976.74,288.30 L976.94,290.29 L977.13,292.28 L977.33,294.27 L977.53,296.26 L977.72,298.25 L977.92,300.24 L978.12,302.23 L978.31,304.22 L978.51,306.20 L978.71,308.19 L978.90,310.18 L979.10,312.17 L979.30,314.16 L979.50,316.15 L979.70,318.13 L979.90,320.12 L980.10,322.11 L980.30,324.10 L980.50,326.09 L980.70,328.08 L980.90,330.06 L981.10,332.05 L981.30,334.04 L981.50,336.03 L981.70,338.02 L981.90,340.01 L982.11,342.00 L982.31,343.99 L982.51,345.98 L982.71,347.97 L982.92,349.96 L983.12,351.95 L983.33,353.95 L983.53,355.94 L983.74,357.93 L983.94,359.92 L984.15,361.92 L984.35,363.91 L984.56,365.91 L984.77,367.90 L984.98,369.90 L985.19,371.89 L985.40,373.89 L985.62,375.88 L985.83,377.88 L986.05,379.87 L986.28,381.87 L986.50,383.86 L986.74,385.85 L986.97,387.84 L987.21,389.84 L987.45,391.83 L987.70,393.82 L987.96,395.81 L988.22,397.79 L988.48,399.78 L988.75,401.77 L989.03,403.75 L989.32,405.73 L989.61,407.71 L989.91,409.69 L990.22,411.67 L990.53,413.64 L990.85,415.62 L991.19,417.59 L991.53,419.55 L991.88,421.52 L992.24,423.48 L992.60,425.45 L992.98,427.41 L993.37,429.36 L993.77,431.31 L994.18,433.26 L994.61,435.21 L995.04,437.16 L995.49,439.10 L995.94,441.04 L996.41,442.97 L996.90,444.90 L997.39,446.83 L997.90,448.76 L998.41,450.69 L998.93,452.62 L999.46,454.55 L999.99,456.49 L1000.52,458.44 L1001.05,460.39 L1001.59,462.36 L1002.12,464.33 L1002.65,466.32 L1003.17,468.32 L1003.68,470.34 L1004.27,472.31 L1005.07,474.12 L1006.23,475.65 L1007.78,476.70 L1009.40,476.96 L1010.79,476.33 L1011.82,475.00 L1012.54,473.14 L1013.05,470.95 L1013.41,468.60 L1013.73,466.26 L1014.05,464.04 L1014.37,461.92 L1014.68,459.89 L1015.00,457.91 L1015.31,455.98 L1015.62,454.08 L1015.92,452.18 L1016.22,450.27 L1016.51,448.36 L1016.79,446.44 L1017.08,444.50 L1017.35,442.56 L1017.63,440.62 L1017.89,438.66 L1018.16,436.70 L1018.42,434.74 L1018.68,432.77 L1018.94,430.79 L1019.19,428.81 L1019.44,426.83 L1019.69,424.84 L1019.94,422.85 L1020.19,420.85 L1020.44,418.85 L1020.69,416.85 L1020.93,414.85 L1021.18,412.85 L1021.43,410.85 L1021.68,408.84 L1021.93,406.84 L1022.18,404.83 L1022.44,402.83 L1022.70,400.83 L1022.95,398.83 L1023.22,396.83 L1023.48,394.84 L1023.75,392.85 L1024.02,390.86 L1024.30,388.87 L1024.58,386.89 L1024.87,384.91 L1025.15,382.93 L1025.44,380.96 L1025.73,378.99 L1026.03,377.01 L1026.32,375.05 L1026.62,373.08 L1026.92,371.11 L1027.22,369.14 L1027.52,367.18 L1027.82,365.21 L1028.12,363.25 L1028.42,361.29 L1028.72,359.32 L1029.03,357.35 L1029.33,355.39 L1029.63,353.42 L1029.93,351.45 L1030.22,349.48 L1030.52,347.51 L1030.81,345.53 L1031.10,343.56 L1031.39,341.58 L1031.68,339.60 L1031.96,337.61 L1032.24,335.63 L1032.52,333.64 L1032.79,331.64 L1033.06,329.64 L1033.33,327.64 L1033.59,325.63 L1033.84,323.62 L1034.09,321.60 L1034.34,319.58 L1034.58,317.56 L1034.81,315.52 L1035.04,313.49 L1035.26,311.44 L1035.48,309.40 L1035.69,307.37 L1035.89,305.34 L1036.09,303.32 L1036.28,301.32 L1036.47,299.34 L1036.65,297.38 L1036.82,295.45 L1036.99,293.55 L1037.15,291.68 L1037.31,289.85 L1037.46,288.06 L1037.61,286.29 L1037.76,284.55 L1037.91,282.80 L1038.07,281.06 L1038.24,279.30 L1038.41,277.52 L1038.59,275.70 L1038.79,273.85 L1039.01,271.93 L1039.24,269.96 L1039.50,267.91 L1039.78,265.78 L1040.08,263.56 L1040.42,261.23 L1040.78,258.79 L1041.18,256.22 L1041.61,253.53 L1042.08,250.79 L1042.59,248.16 L1043.14,245.80 L1043.74,243.89 L1044.38,242.57 L1045.08,242.01 L1045.82,242.35 L1046.59,243.52 L1047.33,245.35 L1048.02,247.65 L1048.60,250.24 L1049.03,252.94 L1049.30,255.61 L1049.46,258.19 L1049.57,260.65 L1049.72,262.94 L1049.97,265.03 L1050.39,266.89 L1051.04,268.48 L1052.00,269.76 L1053.34,270.70 L1055.10,271.27 L1057.11,271.70 L1058.98,272.35 L1060.58,273.36 L1061.95,274.67 L1063.14,276.21 L1064.20,277.92 L1065.18,279.71 L1066.14,281.53 L1067.12,283.29 L1068.19,284.94 L1069.32,286.45 L1070.35,288.02 L1071.23,289.67 L1071.96,291.41 L1072.58,293.23 L1073.09,295.11 L1073.51,297.04 L1073.84,299.01 L1074.12,301.02 L1074.34,303.06 L1074.53,305.11 L1074.69,307.16 L1074.85,309.21 L1075.02,311.25 L1075.20,313.27 L1075.39,315.27 L1075.58,317.26 L1075.79,319.24 L1075.99,321.22 L1076.20,323.19 L1076.40,325.15 L1076.61,327.12 L1076.80,329.08 L1076.99,331.06 L1077.17,333.03 L1077.33,335.02 L1077.48,337.02 L1077.62,339.04 L1077.73,341.06 L1077.82,343.11 L1077.90,345.17 L1077.96,347.23 L1078.01,349.29 L1078.05,351.36 L1078.08,353.42 L1078.09,355.47 L1078.11,357.50 L1078.12,359.52 L1078.13,361.52 L1078.13,363.48 L1078.14,365.42 L1078.16,367.33 L1078.18,369.19 L1078.20,371.02 L1078.24,372.80 L1078.28,374.55 L1078.33,376.27 L1078.38,377.97 L1078.44,379.66 L1078.51,381.34 L1078.57,383.03 L1078.64,384.72 L1078.72,386.43 L1078.79,388.17 L1078.86,389.93 L1078.94,391.73 L1079.01,393.57 L1079.08,395.47 L1079.15,397.42 L1079.21,399.44 L1079.27,401.53 L1079.32,403.70 L1079.37,405.95 L1079.41,408.30 L1079.45,410.75 L1079.48,413.31 L1079.49,415.98 L1079.50,418.77 L1079.50,421.70 L1079.49,424.74 L1079.47,427.87 L1079.44,431.07 L1079.41,434.32 L1079.38,437.59 L1079.34,440.86 L1079.31,444.11 L1079.27,447.30 L1079.25,450.42 L1079.22,453.45 L1079.21,456.35 L1079.20,459.11 L1079.20,461.70 L1079.22,464.09 L1079.25,466.27 L1079.29,468.20 L1079.36,469.88 L1079.44,471.26 L1079.54,472.33 L1079.67,473.06 L1079.82,473.43 L1079.99,473.42 L1080.20,473.00 L1080.43,472.14 L1080.69,470.83 L1080.98,469.08 L1081.28,467.04 L1081.57,464.87 L1081.82,462.70 L1082.05,460.56 L1082.25,458.44 L1082.41,456.35 L1082.56,454.27 L1082.68,452.22 L1082.77,450.18 L1082.85,448.16 L1082.91,446.16 L1082.95,444.17 L1082.98,442.19 L1083.00,440.22 L1083.01,438.26 L1083.01,436.31 L1083.00,434.36 L1082.99,432.42 L1082.98,430.48 L1082.96,428.54 L1082.95,426.61 L1082.94,424.67 L1082.94,422.73 L1082.94,420.78 L1082.95,418.83 L1082.98,416.87 L1083.01,414.90 L1083.05,412.93 L1083.09,410.96 L1083.15,408.98 L1083.21,406.99 L1083.27,405.00 L1083.35,403.00 L1083.42,401.01 L1083.50,399.00 L1083.59,397.00 L1083.67,394.99 L1083.76,392.98 L1083.85,390.96 L1083.94,388.95 L1084.03,386.93 L1084.12,384.91 L1084.21,382.90 L1084.30,380.88 L1084.39,378.86 L1084.47,376.84 L1084.55,374.82 L1084.63,372.80 L1084.70,370.78 L1084.76,368.76 L1084.82,366.75 L1084.88,364.74 L1084.93,362.72 L1084.98,360.71 L1085.02,358.70 L1085.06,356.70 L1085.09,354.69 L1085.13,352.68 L1085.16,350.68 L1085.19,348.67 L1085.21,346.67 L1085.24,344.67 L1085.26,342.67 L1085.29,340.67 L1085.31,338.67 L1085.34,336.67 L1085.36,334.67 L1085.39,332.67 L1085.41,330.68 L1085.44,328.68 L1085.47,326.68 L1085.50,324.69 L1085.54,322.69 L1085.58,320.70 L1085.62,318.71 L1085.67,316.71 L1085.72,314.72 L1085.77,312.73 L1085.83,310.73 L1085.89,308.74 L1085.96,306.75 L1086.04,304.75 L1086.12,302.76 L1086.21,300.77 L1086.31,298.77 L1086.41,296.78 L1086.53,294.78 L1086.65,292.79 L1086.78,290.80 L1086.91,288.80 L1087.06,286.81 L1087.22,284.81 L1087.38,282.81 L1087.55,280.82 L1087.73,278.82 L1087.92,276.82 L1088.12,274.83 L1088.32,272.83 L1088.53,270.84 L1088.74,268.84 L1088.96,266.84 L1089.19,264.85 L1089.42,262.85 L1089.65,260.86 L1089.89,258.86 L1090.14,256.87 L1090.39,254.88 L1090.64,252.88 L1090.90,250.89 L1091.15,248.90 L1091.42,246.91 L1091.68,244.92 L1091.94,242.94 L1092.21,240.95 L1092.48,238.96 L1092.75,236.98 L1093.02,235.00 L1093.29,233.01 L1093.56,231.03 L1093.83,229.05 L1094.10,227.08 L1094.37,225.10 L1094.63,223.13 L1094.90,221.16 L1095.16,219.18 L1095.42,217.22 L1095.68,215.25 L1095.94,213.28 L1096.19,211.32 L1096.44,209.36 L1096.70,207.40 L1097.02,205.45 L1097.43,203.51 L1097.97,201.58 L1098.69,199.66 L1099.63,197.75 L1100.82,195.87 L1102.30,194.01 L1103.96,192.40 L1105.59,191.43 L1106.96,191.49 L1107.99,192.67 L1108.84,194.58 L1109.67,196.83 L1110.63,199.02 L1111.84,200.85 L1113.29,202.33 L1114.92,203.51 L1116.70,204.46 L1118.58,205.24 L1120.51,205.92 L1122.45,206.54 L1124.35,207.18 L1126.17,207.90 L1127.86,208.76 L1129.39,209.80 L1130.74,211.04 L1131.94,212.46 L1133.01,214.02 L1133.95,215.72 L1134.78,217.52 L1135.53,219.40 L1136.19,221.35 L1136.80,223.33 L1137.37,225.34 L1137.91,227.34 L1138.42,229.33 L1138.92,231.31 L1139.39,233.29 L1139.84,235.26 L1140.28,237.22 L1140.70,239.19 L1141.10,241.15 L1141.49,243.12 L1141.87,245.08 L1142.23,247.04 L1142.58,249.01 L1142.92,250.97 L1143.25,252.94 L1143.57,254.90 L1143.87,256.87 L1144.17,258.84 L1144.46,260.80 L1144.74,262.77 L1145.02,264.74 L1145.28,266.71 L1145.55,268.68 L1145.80,270.65 L1146.05,272.62 L1146.29,274.59 L1146.53,276.57 L1146.77,278.54 L1147.00,280.52 L1147.24,282.50 L1147.46,284.48 L1147.69,286.46 L1147.92,288.44 L1148.15,290.42 L1148.37,292.40 L1148.60,294.39 L1148.83,296.38 L1149.06,298.36 L1149.30,300.35 L1149.54,302.35 L1149.78,304.34 L1150.02,306.34 L1150.27,308.33 L1150.53,310.33 L1150.79,312.33 L1151.06,314.34 L1151.34,316.34 L1151.62,318.35 L1151.92,320.36 L1152.22,322.37 L1152.53,324.38 L1152.85,326.40 L1153.18,328.41 L1153.52,330.43 L1153.87,332.45 L1154.22,334.46 L1154.58,336.47 L1154.94,338.48 L1155.31,340.48 L1155.69,342.48 L1156.06,344.46 L1156.44,346.44 L1156.81,348.41 L1157.19,350.37 L1157.56,352.32 L1157.94,354.25 L1158.31,356.17 L1158.67,358.07 L1159.03,359.96 L1159.39,361.83 L1159.74,363.69 L1160.09,365.52 L1160.43,367.34 L1160.78,369.16 L1161.15,370.97 L1161.54,372.80 L1161.97,374.65 L1162.43,376.53 L1162.94,378.44 L1163.51,380.39 L1164.15,382.39 L1164.85,384.44 L1165.64,386.57 L1166.51,388.76 L1167.48,391.03 L1168.52,393.28 L1169.61,395.40 L1170.71,397.26 L1171.79,398.73 L1172.83,399.68 L1173.79,399.99 L1174.65,399.64 L1175.43,398.71 L1176.13,397.26 L1176.77,395.39 L1177.34,393.18 L1177.86,390.70 L1178.33,388.04 L1178.76,385.27 L1179.16,382.48 L1179.53,379.75 L1179.88,377.11 L1180.22,374.57 L1180.54,372.12 L1180.84,369.76 L1181.13,367.48 L1181.40,365.27 L1181.66,363.13 L1181.91,361.05 L1182.14,359.04 L1182.37,357.07 L1182.59,355.15 L1182.81,353.27 L1183.01,351.43 L1183.22,349.62 L1183.42,347.84 L1183.61,346.08 L1183.81,344.33 L1184.00,342.59 L1184.20,340.85 L1184.40,339.11 L1184.60,337.37 L1184.81,335.61 L1185.02,333.83 L1185.24,332.03 L1185.47,330.20 L1185.70,328.35 L1185.94,326.48 L1186.19,324.58 L1186.44,322.67 L1186.70,320.73 L1186.95,318.78 L1187.22,316.81 L1187.48,314.83 L1187.75,312.83 L1188.01,310.83 L1188.28,308.81 L1188.55,306.78 L1188.81,304.75 L1189.08,302.72 L1189.34,300.68 L1189.60,298.63 L1189.86,296.59 L1190.11,294.55 L1190.36,292.51 L1190.61,290.47 L1190.85,288.44 L1191.08,286.41 L1191.31,284.39 L1191.53,282.38 L1191.75,280.37 L1191.96,278.36 L1192.17,276.36 L1192.38,274.36 L1192.59,272.37 L1192.79,270.37 L1192.99,268.39 L1193.19,266.40 L1193.39,264.42 L1193.59,262.44 L1193.79,260.46 L1193.98,258.49 L1194.18,256.52 L1194.38,254.55 L1194.58,252.58 L1194.78,250.61 L1194.98,248.64 L1195.19,246.67 L1195.40,244.70 L1195.61,242.74 L1195.82,240.77 L1196.04,238.80 L1196.27,236.84 L1196.50,234.87 L1196.73,232.90 L1196.97,230.93 L1197.21,228.95 L1197.47,226.98 L1197.72,225.01 L1197.98,223.03 L1198.24,221.05 L1198.51,219.07 L1198.78,217.09 L1199.05,215.11 L1199.33,213.13 L1199.60,211.14 L1199.88,209.16 L1200.16,207.17 L1200.44,205.18 L1200.72,203.19 L1201.00,201.20 L1201.28,199.21 L1201.55,197.22 L1201.83,195.22 L1202.10,193.23 L1202.37,191.23 L1202.64,189.23 L1202.91,187.24 L1203.17,185.24 L1203.42,183.24 L1203.68,181.23 L1203.92,179.23 L1204.17,177.23 L1204.40,175.22 L1204.63,173.22 L1204.85,171.21 L1205.07,169.20 L1205.28,167.19 L1205.48,165.18 L1205.70,163.18 L1205.92,161.18 L1206.16,159.18 L1206.42,157.20 L1206.72,155.23 L1207.06,153.26 L1207.44,151.32 L1207.87,149.39 L1208.36,147.48 L1208.91,145.59 L1209.53,143.72 L1210.24,141.88 L1211.02,140.06 L1211.90,138.28 L1212.88,136.53 L1213.95,134.83 L1215.13,133.20 L1216.41,131.66 L1217.79,130.21 L1219.28,128.89 L1220.89,127.69 L1222.60,126.65 L1224.43,125.77 L1226.28,124.95 L1227.98,124.01 L1229.38,122.77 L1230.48,121.21 L1231.32,119.41 L1231.97,117.42 L1232.50,115.32 L1232.97,113.18 L1233.43,111.06 L1233.96,109.03 L1234.59,107.09 L1235.38,105.24 L1236.38,103.47 L1237.62,101.76 L1239.12,100.18 L1240.76,99.06 L1242.41,98.80 L1243.97,99.57 L1245.38,101.10 L1246.63,103.02 L1247.67,105.02 L1248.53,106.99 L1249.25,108.92 L1249.86,110.81 L1250.41,112.66 L1250.94,114.47 L1251.48,116.24 L1252.07,117.98 L1252.71,119.74 L1253.43,121.54 L1254.23,123.45 L1255.13,125.50 L1256.14,127.73 L1257.28,129.92 L1258.58,131.62 L1260.09,132.31 L1261.82,131.70 L1263.68,130.42 L1265.56,129.34 L1267.41,128.73 L1269.23,128.55 L1271.00,128.74 L1272.72,129.25 L1274.38,130.03 L1275.98,131.01 L1277.50,132.15 L1278.96,133.42 L1280.34,134.81 L1281.65,136.30 L1282.90,137.88 L1284.09,139.53 L1285.23,141.24 L1286.31,142.99 L1287.33,144.77 L1288.31,146.57 L1289.24,148.40 L1290.12,150.24 L1290.96,152.11 L1291.75,153.99 L1292.51,155.88 L1293.22,157.79 L1293.89,159.72 L1294.53,161.65 L1295.13,163.60 L1295.70,165.55 L1296.23,167.51 L1296.74,169.47 L1297.21,171.44 L1297.66,173.40 L1298.08,175.37 L1298.48,177.34 L1298.86,179.31 L1299.21,181.27 L1299.55,183.22 L1299.86,185.17 L1300.16,187.10 L1300.45,189.03 L1300.72,190.95 L1300.99,192.85 L1301.24,194.73 L1301.48,196.60 L1301.72,198.45 L1301.95,200.29 L1302.18,202.11 L1302.40,203.93 L1302.62,205.76 L1302.84,207.61 L1303.05,209.47 L1303.26,211.36 L1303.47,213.29 L1303.67,215.26 L1303.88,217.28 L1304.08,219.36 L1304.29,221.50 L1304.50,223.71 L1304.70,226.01 L1304.91,228.39 L1305.12,230.87 L1305.33,233.44 L1305.55,236.08 L1305.76,238.76 L1305.98,241.46 L1306.19,244.16 L1306.40,246.84 L1306.60,249.47 L1306.81,252.02 L1307.00,254.47 L1307.20,256.81 L1307.38,259.00 L1307.56,261.02 L1307.73,262.85 L1307.89,264.47 L1308.04,265.84 L1308.17,266.96 L1308.30,267.78 L1308.41,268.30 L1308.51,268.48 L1308.60,268.31 L1308.67,267.80 L1308.73,266.98 L1308.79,265.87 L1308.84,264.48 L1308.89,262.84 L1308.95,260.96 L1309.01,258.88 L1309.07,256.61 L1309.14,254.17 L1309.23,251.59 L1309.33,248.88 L1309.45,246.07 L1309.59,243.17 L1309.76,240.21 L1309.95,237.21 L1310.17,234.19 L1310.41,231.20 L1310.68,228.32 L1310.98,225.66 L1311.29,223.30 L1311.61,221.35 L1311.95,219.88 L1312.29,219.00 L1312.62,218.81 L1312.96,219.35 L1313.29,220.53 L1313.62,222.24 L1313.94,224.36 L1314.24,226.79 L1314.53,229.39 L1314.80,232.06 L1315.06,234.67 L1315.29,237.13 L1315.51,239.43 L1315.71,241.58 L1315.89,243.61 L1316.06,245.54 L1316.23,247.40 L1316.38,249.21 L1316.52,250.98 L1316.67,252.76 L1316.81,254.55 L1316.95,256.39 L1317.09,258.29 L1317.24,260.27 L1317.39,262.38 L1317.56,264.61 L1317.73,267.00 L1317.91,269.51 L1318.11,272.10 L1318.31,274.71 L1318.52,277.29 L1318.73,279.78 L1318.94,282.14 L1319.16,284.30 L1319.38,286.23 L1319.59,287.87 L1319.80,289.16 L1320.01,290.06 L1320.21,290.51 L1320.41,290.47 L1320.60,289.97 L1320.78,289.07 L1320.95,287.78 L1321.12,286.16 L1321.28,284.25 L1321.44,282.09 L1321.59,279.71 L1321.74,277.17 L1321.89,274.49 L1322.03,271.72 L1322.17,268.91 L1322.30,266.08 L1322.44,263.29 L1322.57,260.57 L1322.70,257.97 L1322.82,255.47 L1322.95,253.08 L1323.08,250.78 L1323.20,248.57 L1323.33,246.45 L1323.46,244.39 L1323.59,242.41 L1323.72,240.47 L1323.85,238.59 L1323.98,236.74 L1324.12,234.93 L1324.26,233.14 L1324.40,231.37 L1324.54,229.61 L1324.69,227.85 L1324.85,226.08 L1325.01,224.29 L1325.17,222.48 L1325.34,220.64 L1325.51,218.77 L1325.69,216.87 L1325.87,214.95 L1326.06,213.00 L1326.25,211.04 L1326.45,209.05 L1326.64,207.06 L1326.85,205.04 L1327.05,203.02 L1327.26,200.99 L1327.47,198.95 L1327.68,196.91 L1327.89,194.86 L1328.11,192.82 L1328.32,190.78 L1328.54,188.74 L1328.76,186.71 L1328.98,184.68 L1329.20,182.65 L1329.43,180.64 L1329.66,178.62 L1329.89,176.61 L1330.13,174.61 L1330.37,172.61 L1330.61,170.61 L1330.86,168.62 L1331.12,166.63 L1331.39,164.64 L1331.66,162.66 L1331.93,160.68 L1332.22,158.71 L1332.51,156.73 L1332.82,154.77 L1333.13,152.80 L1333.45,150.84 L1333.78,148.88 L1334.13,146.92 L1334.48,144.97 L1334.84,143.02 L1335.22,141.07 L1335.61,139.12 L1336.01,137.17 L1336.43,135.23 L1336.86,133.29 L1337.30,131.35 L1337.76,129.42 L1338.23,127.48 L1338.72,125.55 L1339.23,123.61 L1339.75,121.68 L1340.29,119.75 L1340.85,117.82 L1341.42,115.90 L1342.01,113.97 L1342.62,112.05 L1343.25,110.14 L1343.90,108.23 L1344.57,106.32 L1345.25,104.42 L1345.96,102.53 L1346.69,100.65 L1347.43,98.77 L1348.20,96.91 L1348.99,95.05 L1349.80,93.21 L1350.63,91.38 L1351.48,89.56 L1352.35,87.75 L1353.25,85.96 L1354.17,84.18 L1355.14,82.44 L1356.22,80.80 L1357.45,79.28 L1358.90,77.93 L1360.61,76.81 L1362.57,75.98 L1364.63,75.58 L1366.59,75.77 L1368.27,76.69 L1369.50,78.50 L1369.70,103.00" fill="none" stroke="#2f60dc" stroke-width="1.7" stroke-linejoin="round"/>
<rect x="1393" y="408.8" width="69" height="1.8" fill="#2e2e2e"/>
<text x="1468" y="419.3" class="lg">A</text>
<rect x="1393" y="445.0" width="69" height="1.8" fill="#d4343b"/>
<text x="1468" y="455.5" class="lg">B</text>
<rect x="1393" y="482.4" width="69" height="1.8" fill="#2f60dc"/>
<text x="1468" y="492.9" class="lg">C</text>
<path d="M464.3,383.1 l-6.6,16.6 l6.4,-4 l5.8,3.7 z" fill="#000"/>
<path d="M606.2,274.3 l-6.6,16.6 l6.4,-4 l5.8,3.7 z" fill="#000"/>
<path d="M1007.9,490.3 l-6.6,16.6 l6.4,-4 l5.8,3.7 z" fill="#000"/>
<path d="M1060.4,308.3 l-6.6,16.6 l6.4,-4 l5.8,3.7 z" fill="#000"/>
<path d="M1081.3,476.3 l-6.6,16.6 l6.4,-4 l5.8,3.7 z" fill="#000"/>
<path d="M1174.3,407.5 l-6.6,16.6 l6.4,-4 l5.8,3.7 z" fill="#000"/>
<path d="M1308.3,274.4 l-6.6,16.6 l6.4,-4 l5.8,3.7 z" fill="#000"/>
<path d="M1320.5,300.1 l-6.6,16.6 l6.4,-4 l5.8,3.7 z" fill="#000"/>
<text x="436.4" y="421.2" class="an" textLength="65.5" lengthAdjust="spacingAndGlyphs">3417cm-1</text>
<text x="571.9" y="307.0" class="an" textLength="65.5" lengthAdjust="spacingAndGlyphs">2916cm-1</text>
<text x="931.8" y="504.7" class="an" textLength="65.5" lengthAdjust="spacingAndGlyphs">1617cm-1</text>
<text x="1036.1" y="346.8" class="an" textLength="65.5" lengthAdjust="spacingAndGlyphs">1455cm-1</text>
<text x="1053.6" y="509.9" class="an" textLength="65.5" lengthAdjust="spacingAndGlyphs">1366cm-1</text>
<text x="1142.1" y="442.8" class="an" textLength="65.5" lengthAdjust="spacingAndGlyphs">1068cm-1</text>
<text x="1248.6" y="303.5" class="an" textLength="57.6" lengthAdjust="spacingAndGlyphs">602cm-1</text>
<text x="1293.7" y="335.1" class="an" textLength="57.6" lengthAdjust="spacingAndGlyphs">566cm-1</text>
<text class="tt" transform="translate(44.5,465) rotate(-90)" x="0" y="0" textLength="403" lengthAdjust="spacingAndGlyphs">Transmittance(%)</text>
<text class="tt2" x="593" y="625" textLength="396" lengthAdjust="spacingAndGlyphs">Wavenumber(cm</text>
<text class="sup" x="990" y="606">-1</text>
<text class="tt2" transform="translate(1016.5,625) scale(1.25,0.98)">)</text>
</svg>
</body></html>
